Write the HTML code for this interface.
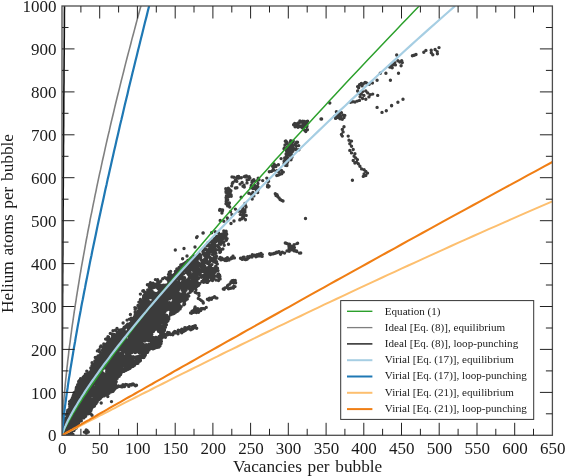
<!DOCTYPE html>
<html><head><meta charset="utf-8"><title>Helium atoms per bubble vs Vacancies per bubble</title>
<style>html,body{margin:0;padding:0;background:#fff}svg{display:block}text{font-family:"Liberation Serif","DejaVu Serif",serif;fill:#1a1a1a}</style></head><body>
<svg width="565" height="476" viewBox="0 0 565 476">
<rect width="565" height="476" fill="#fff"/>
<defs><clipPath id="c"><rect x="62" y="6" width="490.4" height="429.3"/></clipPath></defs>
<path clip-path="url(#c)" d="M115.5 330.2h0M90.8 368h0M170.2 273.7h0M149.4 287h0M113 330.8h0M135.5 307.9h0M170.6 271.4h0M169.3 272.3h0M144.5 291.9h0M168.5 274.4h0M101 346h0M96.6 358.3h0M167.8 277.7h0M109.3 339.2h0M164.8 277.6h0M129.5 319.1h0M138.7 306.2h0M112 334.1h0M108.4 338.6h0M135.1 312.1h0M155.4 279.6h0M157.7 281.6h0M149.8 285.3h0M95.4 357.8h0M99.2 349.7h0M160.7 281.2h0M86.8 371.1h0M112.3 334.8h0M147.4 284.8h0M140.4 299.5h0M127.6 324.2h0M103.8 344h0M119.4 330.2h0M99.5 351.7h0M130.4 314.5h0M110.3 333.4h0M134.9 307.6h0M142.8 291h0M143.6 290.6h0M140.4 294.1h0M162.7 278.8h0M107.9 340.7h0M117 328.4h0M154.2 284.4h0M140 303h0M105.6 339.1h0M117.1 331.6h0M107 338.8h0M157.8 282.3h0M98 355.9h0M127.1 320.1h0M138 305.5h0M153.1 283.1h0M105.2 344.7h0M152 284h0M94.9 361h0M114 334.4h0M138.7 307.9h0M95.3 357.5h0M108 336.8h0M131.4 318.1h0M135.2 309.4h0M169.5 275.5h0M98.8 350h0M104.5 345.8h0M148.5 284.8h0M106.1 339.1h0M108.6 337.3h0M150.4 282.8h0M92.1 362.7h0M138.9 302.1h0M92 365.6h0M100.4 346.9h0M157.6 279.7h0M131.2 320.6h0M102.9 347h0M123.1 323h0M148.6 290.6h0M182.9 289h0M63 431.9h0M92 372.1h0M84.4 396.9h0M146.8 347.2h0M68.4 426.1h0M126.6 350.1h0M130.9 350.6h0M137 317.9h0M115.8 365.5h0M175 312.6h0M114.7 374.3h0M143.7 307.4h0M150.3 329.3h0M155.7 342.7h0M92 407.8h0M155 318.4h0M103.8 393.2h0M182.9 298.9h0M153.7 340.2h0M140.9 355.7h0M138.5 339.2h0M184.3 270.5h0M150.8 345h0M140.9 356.3h0M66.5 418h0M153.1 337.8h0M109.8 375.9h0M143.8 357.5h0M133.9 340.7h0M167.9 320.7h0M174.2 303h0M149 336.7h0M133.1 347.8h0M162.5 308.2h0M110.1 383.5h0M109.2 345h0M193.7 266.4h0M134.2 330.1h0M96.9 363.6h0M173.5 306.3h0M108.2 358.3h0M117.3 345.5h0M144.4 329.1h0M150 289.1h0M77.9 385.3h0M68.7 428.9h0M88.2 389.8h0M155.8 326.6h0M174.3 301.5h0M146.6 329.2h0M172.3 313h0M181.4 285.2h0M89.5 378.7h0M141.5 315.7h0M173.2 280.7h0M91.9 377h0M136.8 348.2h0M92 404h0M125.4 344.2h0M73.6 401.4h0M142.2 327.9h0M177.2 291h0M122.3 334.8h0M151.2 336.8h0M161.8 335.6h0M169.5 280h0M150.8 294.4h0M114.5 382.1h0M66.9 421.7h0M137.1 349.4h0M160.6 300.7h0M86.7 385.5h0M141.6 308.9h0M168.4 294.7h0M161.6 317.8h0M184.9 294.2h0M79.3 400.4h0M87.7 396h0M154.7 293.7h0M135 325h0M116.9 342.7h0M130.9 325.8h0M144.6 318.5h0M173.2 277.5h0M127 341.3h0M161.7 295.4h0M74 412.9h0M139.3 330.7h0M149.4 303.5h0M138.3 361.3h0M89.6 388.2h0M125 356.4h0M175.3 273.8h0M118.3 334.4h0M114.8 380.2h0M131.8 329.3h0M176.4 287.3h0M114.9 337h0M178.9 285.2h0M124 365.6h0M160.7 338.8h0M155.8 311.9h0M120.3 361h0M121.7 355.8h0M124 340.7h0M105.5 379.6h0M127.7 364.8h0M168.3 286.5h0M113.8 384.1h0M137.6 356.8h0M159.8 327.9h0M168.6 297.6h0M151.1 348.3h0M114.3 375.3h0M97.9 378.6h0M134.7 348h0M195.1 268.4h0M160.2 285h0M106.7 350.5h0M97.8 370.3h0M81 404.8h0M81.3 387.3h0M118.4 355.3h0M84.5 396.3h0M154.5 311.8h0M69.1 433.7h0M145.1 297.3h0M105.8 386.6h0M162.2 336.1h0M108.8 376.8h0M172.6 276.8h0M157 287.4h0M99.2 377.7h0M159.2 342.5h0M102.7 388.9h0M164.5 324.9h0M114.5 378h0M195.2 272.5h0M90.6 400.7h0M100.8 380.4h0M181 294h0M86.2 396.2h0M91.9 375.3h0M132.2 348h0M113.2 357.1h0M72.4 399.6h0M116.4 377.1h0M166.1 294.3h0M138.3 319.8h0M80.9 409.5h0M113.7 369.7h0M175.2 299.9h0M189.8 281.7h0M96.7 396.4h0M108.2 373.3h0M85.9 379.1h0M105.2 363.9h0M125.2 348.3h0M101.6 362.6h0M92.2 393.4h0M143.3 351.9h0M108 357.2h0M97.6 388.5h0M118.1 367.8h0M160.6 320.6h0M158.3 323.2h0M80.1 409h0M155.9 313h0M124.8 336.5h0M192.8 276.8h0M114 338.5h0M140.2 335.5h0M150.1 297.6h0M110.4 383.3h0M143.7 335.5h0M90.2 380.9h0M199.1 255.5h0M199 257.2h0M193.4 287.9h0M145.3 306.9h0M72.8 427.1h0M160.1 288.8h0M186.2 268.2h0M150.1 307.2h0M92.5 401h0M83.8 399.6h0M172.1 285.2h0M147.6 299.4h0M76.2 428h0M142.8 346.1h0M181.8 264.6h0M105.3 395.1h0M160.6 294.9h0M182.2 282.9h0M106 347.7h0M122.4 331.1h0M193.6 280.8h0M163 287.4h0M158.7 309.1h0M131.8 340.3h0M86.2 390.1h0M101.9 367.8h0M161.7 331.4h0M69.8 406.3h0M71.9 426.3h0M98 363.8h0M75.8 404.2h0M79.7 398.1h0M120.6 342.5h0M96.3 369.9h0M105 385.3h0M116.7 365.5h0M84.6 402h0M139.9 311.1h0M181.5 285.9h0M132.8 366.6h0M163.2 323.1h0M161.7 310.6h0M86.5 377.8h0M150.6 309.3h0M133.6 357.8h0M127 325.6h0M101.6 366.9h0M158.2 328.4h0M145.8 331.5h0M138 323.7h0M102.2 356.7h0M164.9 289.5h0M182.8 298.7h0M142.6 354.6h0M161 334.6h0M175.2 275.8h0M138.2 325.5h0M127.3 355.7h0M174.7 309.7h0M195.3 281.5h0M176.9 300.7h0M103.3 382.7h0M195.5 271.4h0M128.5 325.6h0M79.5 413.1h0M150.7 321.9h0M172.8 294.3h0M128.2 333.7h0M117.3 371.5h0M106.5 365.4h0M73.9 402.6h0M62.4 436.3h0M159.3 313h0M188.9 287.2h0M111.8 343.1h0M81.2 388.1h0M107.5 361.8h0M87.9 387.5h0M163.5 286.5h0M131.3 365.5h0M163.9 306.3h0M147.4 295.3h0M186.2 299.7h0M159.9 343.3h0M169.2 289.2h0M161 312.8h0M130.4 332.1h0M101.1 393.7h0M123.1 369.5h0M109.8 371.2h0M111.9 361h0M123.5 333.6h0M172.1 289.3h0M149.9 316.4h0M156.3 324.1h0M173.9 284.2h0M124 347h0M112.6 362.6h0M115.3 343.3h0M110 356.7h0M115.5 348.6h0M72.5 412.3h0M112.2 342.7h0M106.3 386.3h0M142.3 325.2h0M175.7 277.7h0M151.3 323.2h0M123.5 336h0M88.4 377h0M94.7 389.6h0M175.9 307.3h0M165.4 327.3h0M103.4 387.2h0M108.9 372.6h0M107.4 376.5h0M120.5 363.2h0M156.2 326.9h0M92.4 391.9h0M116.5 340.9h0M172.4 275.4h0M123.2 341.8h0M104.7 351.3h0M93.9 390h0M81.4 415.7h0M110.5 385h0M129.7 364.7h0M136.2 363.5h0M155.6 320.3h0M172.4 277.2h0M100.5 380.9h0M151.4 321.3h0M109.3 346.2h0M88.6 397.6h0M81.3 411h0M157.2 297.3h0M124.6 369.3h0M73.4 407h0M119.6 342.5h0M65.2 419.6h0M173.8 302.8h0M137.1 323.2h0M92.9 393.7h0M129.8 355.5h0M108.6 383.3h0M126.2 325.8h0M155.8 298.2h0M162.2 305.1h0M94 397.6h0M180.3 300.6h0M149.1 322.2h0M93 382.4h0M167.3 295.8h0M108 385.8h0M118.4 334.6h0M101.9 388.3h0M160.7 320.2h0M89 375.1h0M126.1 335.4h0M163.7 310.4h0M98.9 399.5h0M122.7 349.1h0M67.6 413.7h0M124.7 346.7h0M90.1 377.3h0M111.7 377.8h0M88 398.3h0M85.4 415.8h0M170.2 305.7h0M94 404.3h0M65.5 425.9h0M102.3 360.4h0M151.9 311.6h0M178.2 294.7h0M89.4 403.3h0M84.6 380.5h0M163.2 300.1h0M178 273.1h0M128.4 359.3h0M170.1 287.3h0M130.9 361.3h0M103.1 380.7h0M134.9 328.1h0M119.7 368.2h0M95.3 366.2h0M90.6 375.7h0M143.7 313.8h0M100.8 396.6h0M71 414h0M113.4 376.7h0M178.4 300.1h0M147.8 295.7h0M140.5 342.7h0M68.3 429.2h0M103 391.2h0M177.5 269.5h0M104.6 388.2h0M95.5 372.4h0M86.6 380.2h0M112 390.7h0M158 305.5h0M192.7 269.7h0M196.9 280.4h0M122.9 370.9h0M161.6 309.2h0M192.3 264.9h0M102.6 366.3h0M177.5 297.4h0M127 367.2h0M108 386h0M136.4 319.7h0M77.6 410.4h0M135.6 314.6h0M176.5 296.3h0M175.8 303.5h0M99.6 386.5h0M170.7 305.2h0M111.3 344.5h0M188.7 272.5h0M115.9 382.5h0M141.2 332.4h0M176.4 291.8h0M126.3 363.6h0M126.8 354.6h0M102.5 379.3h0M99.6 372.2h0M175.9 296.7h0M96 386.5h0M149.9 322.8h0M85.2 407.2h0M143.1 319.6h0M166.4 320.9h0M164.6 298.9h0M131.6 335.7h0M130.7 349.5h0M196.9 257.8h0M101.6 384.2h0M144.9 320.9h0M170.9 312.5h0M105.4 366h0M97.8 371.1h0M141.6 321.6h0M159.3 342.7h0M71.3 430.2h0M94.3 397.5h0M130.3 325.2h0M75.1 425h0M148.6 328.2h0M155.4 306.9h0M111.5 382.2h0M80.7 398.2h0M98.5 387.9h0M105.5 384.4h0M132.7 329.8h0M139.5 312.9h0M106.9 376.1h0M154.4 348.2h0M91.3 405.6h0M146 326.9h0M99.5 374h0M124.1 329.6h0M134.3 363.1h0M110.1 377.6h0M152.2 341.6h0M169.7 304.6h0M134.8 329h0M150 316.2h0M79 417.8h0M164.8 306.1h0M141.8 315h0M92.1 400.8h0M76.5 424.8h0M148.8 344.5h0M128.3 339.6h0M115.5 372.8h0M163.5 332.5h0M167.6 299.4h0M166.2 309.3h0M112.4 375.5h0M83.7 390h0M84.5 377.7h0M100.3 364.6h0M141.4 314.9h0M145.5 350.9h0M102.9 367.9h0M85.7 377.3h0M124.5 356.3h0M93.4 387.2h0M69.2 429.8h0M162.7 285.5h0M171.2 280.8h0M154.5 328.6h0M160 302h0M130.2 335.4h0M102.1 394h0M71.4 428.4h0M73.7 408.5h0M180.5 274.2h0M159.4 322.4h0M154 327.8h0M160.8 287.1h0M173.7 292.2h0M94.7 367.1h0M195.2 259.9h0M163.7 303h0M102.5 350.2h0M92.8 376.8h0M94.9 403.9h0M152.1 308.1h0M98.6 390.3h0M85.8 387.6h0M81.1 395.8h0M167.4 284.6h0M147.4 350.2h0M161 303.9h0M153.2 292.7h0M190.3 262.7h0M86.7 388.8h0M87.4 404.7h0M195.8 283.5h0M81.1 405.3h0M103.1 368.7h0M123.4 346.4h0M103.1 388.1h0M152.6 307.7h0M126 343.8h0M144.6 339.7h0M144.4 313h0M171.1 280.8h0M179.8 306.3h0M101.8 391.2h0M114.9 346.5h0M99.1 374.5h0M98.2 389.1h0M133.4 362.1h0M118.8 339.9h0M170.6 313.2h0M138.2 346.3h0M155.9 299.1h0M172.3 288.7h0M177.2 278.5h0M140.7 320.6h0M135.2 357.3h0M158.1 327.4h0M67.3 419.6h0M146.1 352.5h0M117.1 369.1h0M161.9 321.9h0M71.1 423.7h0M120.1 347.4h0M66.6 434.8h0M149.8 325.8h0M144.3 346.1h0M160.9 292.7h0M98.5 380h0M158.1 317.5h0M98.2 391.9h0M183.3 265.7h0M184.3 302.4h0M194.2 274.7h0M148.2 349.4h0M120.4 331.1h0M181.1 296.5h0M147.8 351.3h0M149.4 295.1h0M133.1 335.9h0M140.1 314.4h0M130.2 344.2h0M99.9 372.9h0M107 362.1h0M125.3 366.8h0M148.8 302h0M115.3 345.3h0M92.6 392.4h0M133.8 329.8h0M69.3 423.8h0M83.4 399.5h0M96.3 390.8h0M92.3 399.5h0M106.7 360.9h0M163.6 317.1h0M78.8 419.7h0M80.9 381.4h0M88.6 379.8h0M187.9 279.7h0M79.4 416h0M133.9 343h0M72.1 420.4h0M155.1 317.5h0M161.7 294.3h0M138.6 342.7h0M91.5 402.8h0M135.5 323.1h0M121.8 344.7h0M153.5 309.8h0M160.3 335.8h0M74.8 418.8h0M145.9 323h0M70.3 430.2h0M161 285.6h0M127 339.9h0M119.1 367.6h0M120.5 349.9h0M121.8 356.2h0M190.9 289.6h0M156.2 308.4h0M64.8 424.6h0M152.7 307.5h0M106.2 366.4h0M187.9 260.5h0M130.1 358.9h0M142.1 312.1h0M146.5 323.8h0M174.8 279.2h0M76 402.1h0M143.3 302.2h0M95.2 401.2h0M173.4 276.1h0M123.9 371.4h0M93.3 377.7h0M82.5 381.9h0M133.9 319.5h0M114.7 380.8h0M148.1 340h0M192.9 276.4h0M117.5 356.3h0M181.2 265.1h0M69.2 429.2h0M148.3 319.4h0M99.4 386.9h0M67.7 428.6h0M181.4 276.1h0M114.1 340h0M156.2 337.4h0M160.3 317.2h0M117.2 333.2h0M74.3 407.6h0M131.4 350.9h0M143.6 336.6h0M112.1 341.9h0M138.6 351.2h0M176.2 284.5h0M136.4 352.1h0M75.9 390.7h0M164.1 288.3h0M90 404.9h0M131 363.6h0M128.1 369.3h0M135.4 318.5h0M74.6 414.3h0M184.7 265h0M154.5 307.6h0M97.4 387.8h0M159.6 297h0M135.8 329.8h0M95 391.6h0M189.5 265.5h0M156 297.5h0M72.1 427.9h0M114.4 359.3h0M78.9 410.8h0M116.1 371.2h0M120.8 339.7h0M159.1 346.7h0M124 344.4h0M117.1 345.6h0M137.7 350.6h0M146.1 299.2h0M77.7 425.1h0M157.7 324.5h0M172.3 314.1h0M111 349h0M129.2 352.6h0M115.2 382.5h0M163.4 289.1h0M125.9 327.3h0M144.2 348.7h0M112.2 378.3h0M136.6 325.8h0M172.6 291.5h0M132.5 321.7h0M85.8 415.1h0M145.6 326.9h0M74.1 399.7h0M146.4 301.9h0M155 337.8h0M90.4 403.1h0M112.8 368.1h0M100.3 377.8h0M107.9 355.8h0M175.6 289.1h0M90.7 390.8h0M81.3 420.8h0M120.4 337.6h0M131.7 342h0M154.3 295h0M173.6 277.7h0M129.8 358.1h0M95.6 361.7h0M172.7 278.8h0M195.6 267.6h0M85.1 389.1h0M176 299.6h0M140.4 360.3h0M147.7 349h0M80.5 414.6h0M86.9 398.1h0M195 276.9h0M153 345.6h0M84.6 404.1h0M132.7 347.5h0M128.1 326.8h0M72.1 417h0M127.7 350.1h0M87 377.2h0M115.2 343.2h0M103.9 349.4h0M128.4 363.8h0M102 388.2h0M117.6 343.4h0M96.5 367.7h0M75.7 394.3h0M184.3 299.2h0M105.1 357.3h0M85.2 396.2h0M178.7 280.9h0M140.6 350.3h0M90.7 393.4h0M88.1 396h0M108.2 384.3h0M187.7 266.9h0M87.5 409.5h0M160.8 338.9h0M165.3 324.4h0M133.6 348.3h0M171.7 286h0M177.4 282.6h0M149.3 311h0M65.8 425.4h0M171 311.2h0M75.4 419.1h0M151.1 325.7h0M79.4 417.8h0M98.4 390.2h0M75 403.8h0M165.5 303.3h0M173.7 301.9h0M115.3 365.8h0M158 312.7h0M132.5 321.2h0M168.1 297.4h0M99.9 367.3h0M149.2 304.8h0M112.1 347.8h0M173.7 279.8h0M188.3 274.5h0M81.2 394.3h0M110.5 341.8h0M128.8 333h0M139.2 342.9h0M169.5 283.4h0M81.2 411.2h0M177.2 297.6h0M102.7 394.4h0M82.9 409.4h0M136.2 333.3h0M118.2 367.4h0M165 324.1h0M92 374.9h0M81.2 379.9h0M85.2 389.8h0M132.7 346.4h0M107.5 385.2h0M107 366.5h0M100.8 366.4h0M73.9 423.9h0M97.9 384.8h0M127 362.1h0M171.1 290.2h0M147 313.9h0M159 320.7h0M191 263.9h0M199.5 283.9h0M123.9 369.7h0M116.2 367.8h0M89.3 392.7h0M171.6 295.2h0M71 420.2h0M103.8 360.6h0M168.1 306.7h0M147.9 299.1h0M174.6 282.6h0M129.4 336.7h0M83.3 403.3h0M78 400.8h0M147 346.8h0M99.1 381.7h0M112.2 345.7h0M170.3 283.7h0M66.3 431.5h0M145.2 303.7h0M119.1 376.1h0M160.2 300.6h0M120.4 355.1h0M102.2 368.7h0M109.8 387.1h0M101.7 386.1h0M177.3 277.4h0M133.7 360.6h0M77.3 404.2h0M72.1 401.4h0M89.3 394h0M105.5 386.6h0M108.6 388.1h0M156.5 304.2h0M68.1 428.6h0M121.8 369.9h0M119.2 376.2h0M179.1 279h0M74.4 418.3h0M112.2 391.2h0M100.5 377h0M160.6 309.6h0M88.4 376.6h0M90.3 401.9h0M120.6 348h0M169.2 282.9h0M130.6 350h0M160.8 298h0M146.4 338.9h0M118.9 344.3h0M158.5 327.4h0M192.1 283.3h0M175.4 282.6h0M156.4 337.7h0M89.3 397.8h0M120.8 334.5h0M142.2 354.6h0M111.3 352.3h0M112.2 341.9h0M77.7 397.1h0M138.2 336.4h0M87.6 406.7h0M159.2 284.6h0M105.2 391.1h0M128.7 345.4h0M109.6 381.8h0M96.3 382.8h0M140.3 330.2h0M154.4 341.6h0M116.2 335h0M113.1 372.4h0M137.4 319.9h0M72.5 398.1h0M136.7 343.7h0M150.9 340.3h0M66.1 431.4h0M138.3 311.6h0M153.3 317.7h0M152.6 309.3h0M176.2 305.5h0M180.4 278.6h0M75.3 413.9h0M153.3 322.5h0M144.1 326.9h0M107.8 362.1h0M173.3 290.3h0M126.8 360.3h0M142.8 306.3h0M173.8 302.7h0M148.4 335.3h0M133.1 356.8h0M105.5 390.6h0M140.9 343h0M139.8 344.2h0M153.9 297.6h0M109.7 362.7h0M158.8 307.7h0M198.1 257.9h0M152.8 320h0M159.8 297.6h0M105.4 352h0M90.6 401.1h0M115.7 359h0M73.4 420.4h0M151.4 306.3h0M96.5 384.3h0M83.6 389.8h0M140.9 331.8h0M155.3 344.5h0M94.6 403h0M143.1 315.4h0M157.9 319.7h0M92.7 367.9h0M98.9 380.9h0M146.5 350.6h0M166.2 285.7h0M80.5 395.9h0M81.3 398.7h0M168.8 318.9h0M188.9 282.8h0M148.4 314.7h0M177.1 310h0M143.1 309.3h0M91.7 388.3h0M78 400.8h0M154.1 287.4h0M103.4 384.8h0M124.1 363.4h0M124 337h0M93 390.5h0M184.1 304.1h0M143.2 301.7h0M163.7 285.3h0M96.4 370.9h0M81.2 411h0M102.9 378.8h0M103.1 382.5h0M166.1 294.8h0M103.4 355.8h0M86.5 402h0M123.1 342.4h0M136.5 341.1h0M99.4 389.2h0M82.6 391.7h0M156.6 302.2h0M157.5 345.3h0M146.8 328.1h0M106.5 392.7h0M141.3 308.8h0M87.2 396.9h0M113.4 381.5h0M101.1 375.7h0M101.1 361.8h0M104.2 375h0M157.8 284.2h0M185.1 281h0M107.7 382.2h0M77.6 403.7h0M95.3 402.6h0M93.3 383h0M155.1 329.4h0M90 375.9h0M92.9 366.1h0M104.2 357.9h0M122.8 363.7h0M65.2 420.5h0M157 328.2h0M178 285.3h0M129.1 349.4h0M171.8 307.3h0M115.8 357h0M66.9 427.8h0M101.9 364.1h0M186.4 269.4h0M176.5 290.9h0M130.4 323.5h0M187.6 279.8h0M112.1 390.4h0M127.8 352.5h0M130.6 352h0M100.4 398.3h0M135.6 341.4h0M186 262.1h0M96.5 396.7h0M118.4 361.6h0M80 391.1h0M185.5 262.7h0M65.9 427.8h0M158.5 331.3h0M124.6 362.2h0M135.1 326.3h0M84.9 406.2h0M87.7 377.7h0M82.1 400.3h0M180.7 300.8h0M129.4 325.8h0M155.3 338.7h0M156.5 313.3h0M131.7 322.6h0M118.2 337.4h0M93.9 390.9h0M117.8 343.5h0M178.6 269.1h0M77.9 398.1h0M164.4 317.8h0M163.7 314h0M182.6 296.2h0M121.8 366.4h0M120.6 349.3h0M74 412h0M71.8 407.5h0M78.3 389.4h0M97.2 393.6h0M81 392.8h0M179 279.8h0M100.4 371.4h0M79.2 393.4h0M68.8 410.2h0M144.8 349.2h0M144.7 323.8h0M73.1 412.6h0M157.7 326.4h0M74.2 425.7h0M142.8 356.7h0M93 371.4h0M81 395h0M107.2 358.3h0M98.8 389.6h0M123.9 332.8h0M69.2 410.8h0M71.9 419.3h0M133.8 357.4h0M146.3 345.6h0M146.4 305.7h0M125.1 363.5h0M140.8 345h0M160.7 335h0M84.8 378h0M98.6 358.5h0M135.6 326.6h0M155.6 304.3h0M86.4 393.3h0M108.7 366.7h0M156.9 317.3h0M143.3 323.7h0M114.3 340.4h0M130 342.3h0M71.6 401.7h0M196.1 271.2h0M113.1 347.1h0M137.9 348.9h0M142.4 357.3h0M117.3 348h0M140.6 306.7h0M112.9 354.8h0M105.7 377.1h0M112.3 389.6h0M160.1 293.2h0M102.8 374.6h0M78.3 412.4h0M123.3 361h0M154.5 325.3h0M100.4 379.5h0M149 349.9h0M142.7 350.2h0M173.9 292.1h0M70.2 408.2h0M100 359.4h0M90.8 394.3h0M122.8 356h0M118.2 339.1h0M118.5 354.2h0M153.2 305.4h0M147.1 323.4h0M85.4 379.7h0M121.5 341.6h0M101.7 385.6h0M140.5 308.8h0M174.1 300.4h0M71.6 425.6h0M99.2 367.7h0M134.9 320.8h0M70.5 413.8h0M111.5 384.6h0M151.4 292.1h0M106.6 367.9h0M74.7 421.2h0M68.9 421.7h0M81.8 401.7h0M192.5 260.8h0M89.1 386.9h0M103.6 382.4h0M151.7 317.3h0M169.2 286.3h0M116.8 375.3h0M123.1 364.6h0M151.2 320.4h0M145.6 334.4h0M97.4 401.4h0M94.7 391.5h0M151.7 316.5h0M110.2 376.7h0M108.7 378.9h0M150.2 292h0M125.5 326.5h0M141.8 311.8h0M89.3 403.5h0M146.5 319.7h0M94.7 400.9h0M162.1 329h0M140 331.8h0M130.7 345.6h0M85.5 405.7h0M103.7 348.7h0M84.2 398.5h0M158.1 314.1h0M106.8 386.6h0M93.6 369.9h0M154.8 311.9h0M192 290.8h0M109.3 381.4h0M85.6 409.4h0M154.9 343.9h0M169.1 282.9h0M169.8 294.6h0M154.3 297.9h0M195.8 261.3h0M84.3 407.7h0M150.7 336.6h0M102 383.5h0M108.5 361.1h0M192.9 265.8h0M122.6 361.6h0M84.2 376.8h0M142.8 327.3h0M189 282.2h0M155.5 340.8h0M87.8 408.2h0M146.8 298.2h0M148.1 349.4h0M80.9 416h0M147.9 315.4h0M120.2 337.9h0M153.8 312h0M107.7 368.2h0M140.5 309.6h0M166 295h0M125.8 332.9h0M140.2 308.5h0M183.2 297.5h0M148.8 347.5h0M176 283.4h0M100.8 373.5h0M129.3 367.1h0M73.5 400.1h0M156.1 313.6h0M148.5 310.9h0M85.3 397.8h0M101.6 360.5h0M120.8 329.9h0M155.3 299.1h0M183.7 266.9h0M114.6 371.8h0M164.2 330.9h0M143.9 335.8h0M177.3 301.2h0M111.1 391.9h0M126.6 342h0M148 316.6h0M84.5 380.4h0M150 297.2h0M172.5 286.9h0M161.7 302.9h0M165.6 302.3h0M71.3 399.9h0M129.8 324.6h0M145 329h0M160.4 321.8h0M144.9 341h0M147.3 338.2h0M94.9 392.3h0M147.8 291.4h0M85.7 376.8h0M173.2 301.5h0M78.6 392.2h0M160.7 298.8h0M107.2 351.4h0M71 428h0M154.4 297.9h0M155.3 341.8h0M149.8 337.4h0M189.5 275.4h0M123.3 356.6h0M165.6 301.9h0M132.2 350.2h0M177.4 271h0M126.9 341.6h0M103.8 392.2h0M122.8 337.3h0M108.2 350h0M136.7 343.8h0M137.3 337.4h0M142 319h0M117.9 342.1h0M175.8 290.2h0M147.1 326.8h0M133.4 359.8h0M81 418.1h0M183.8 298.4h0M75.8 419.3h0M105.9 388.4h0M82.2 387.8h0M139.3 315.5h0M165.4 303.5h0M108.4 373.1h0M82.3 384h0M68.4 425.6h0M75.9 396.4h0M158.7 302.8h0M99.8 398.9h0M140.7 332.8h0M154 342.2h0M70.8 427.5h0M127.3 365.6h0M192.4 263.5h0M139 312.7h0M131.4 329.9h0M141.4 321.4h0M169.6 292.2h0M141.2 327.9h0M107.7 388.9h0M72.5 397.6h0M75.8 427.7h0M113.3 349.3h0M153.6 346.4h0M145.7 316.3h0M87.9 404.8h0M174.6 310.4h0M102 369.7h0M171.3 306.5h0M85.3 384.4h0M78.8 382.6h0M85 407h0M140.3 315.6h0M129.9 359.6h0M104.7 376.3h0M106.5 357.3h0M90.9 385.1h0M142.9 301.2h0M136.3 332.7h0M155.7 303.4h0M63.6 434.8h0M91.6 399.7h0M195.8 263.3h0M83.8 417.9h0M106.5 379.5h0M187.4 266.5h0M83.7 394h0M76.9 407.7h0M76.2 389.1h0M90.5 373.6h0M95.4 399.2h0M113.8 381.3h0M96.4 396.5h0M161.5 301.1h0M122.3 341h0M82.7 407.7h0M158.8 321.9h0M179.7 301.9h0M180.5 306.7h0M140.4 350.1h0M197.2 260.7h0M127.6 361.6h0M70.6 408.7h0M176.5 287.6h0M87.4 388.6h0M166.5 318.2h0M194.2 285.4h0M147.6 329.2h0M67.7 416.4h0M82.9 386.9h0M84.5 386.9h0M149.3 346.4h0M136 337.8h0M88.2 410.8h0M67.4 427.3h0M169.5 297.9h0M102.7 353.3h0M134.8 327h0M182.9 298.7h0M161.8 287.7h0M185.5 298.6h0M146.9 329.2h0M151.8 316.1h0M115.2 386h0M133.4 348.6h0M167.1 298.4h0M157.2 293.5h0M97.3 396.9h0M143 353.4h0M127.3 348.1h0M163 299.3h0M71.6 426.5h0M196 271.9h0M108.4 391.8h0M132.9 328.6h0M83.1 383.7h0M154.6 343.4h0M157.8 299.3h0M136.6 356.9h0M105.1 383.6h0M127.9 343h0M122.9 329.1h0M175 312.8h0M71.5 413.2h0M160.4 288.3h0M111.5 387.5h0M140.1 338.7h0M161.4 341.4h0M69.6 409.3h0M159.8 288.6h0M110.9 347.8h0M115.8 349.2h0M111.4 360.7h0M127.1 334.5h0M77.7 384.7h0M88 387.5h0M161.2 295.5h0M155 323h0M92.4 403.8h0M108.8 373h0M117.4 338h0M69.3 409.3h0M72 406h0M84.9 400.6h0M170.8 306.6h0M112 379.3h0M119.6 368.6h0M156.2 346.3h0M167.3 306.7h0M140.5 333.2h0M81.6 407.6h0M154.6 328h0M159.9 313.2h0M152.5 311.6h0M199.1 269.8h0M161.1 321.2h0M181.3 278.2h0M187.1 282.6h0M96.1 376.4h0M89.4 393.6h0M97.2 373.9h0M141.1 349.7h0M131.6 348.8h0M167.2 306.5h0M153 323.3h0M152.3 326.7h0M116.9 344.3h0M146.5 349h0M167.3 297.3h0M167.2 303.6h0M153.1 285.5h0M161.4 329h0M93.3 379.9h0M136 326.5h0M149.1 327.9h0M93.4 387.5h0M116 354.4h0M103.8 377.9h0M177.2 289.9h0M133.3 326h0M111.2 342.8h0M176.1 310.9h0M76.8 400.2h0M157.3 312.6h0M81.6 392.9h0M152.2 327.2h0M155.4 316.7h0M170.1 305h0M160.1 287.7h0M149.5 340h0M168 319.4h0M105.3 381.5h0M161.4 300.5h0M153.6 311.8h0M151.6 306.2h0M73.7 419h0M80.3 396.9h0M152.5 325.1h0M174.3 302.4h0M195.1 279.3h0M134.9 340h0M151.2 302.5h0M124.9 365.8h0M188.4 287.6h0M111.9 380.4h0M99.8 397.9h0M161.2 331.7h0M104.4 377.4h0M157.1 328.8h0M73.3 417.3h0M91.4 373.9h0M177.6 289.6h0M169 278.4h0M139.4 335.9h0M150.8 332.3h0M159.1 328.3h0M169.2 303.8h0M142.3 319.2h0M183.3 293.2h0M126.1 362.3h0M192.8 266.6h0M86.6 410.5h0M175.1 297.7h0M174.6 289.3h0M118.6 342.4h0M146.1 336.5h0M116.8 354.5h0M151.9 315.8h0M168.4 283.8h0M144.3 306.6h0M191.5 262.3h0M116.2 357.2h0M158.3 324.7h0M95.3 365.5h0M130.6 367.4h0M147.3 349.1h0M95.3 380.8h0M129.3 347.2h0M150.7 317.8h0M144 315.4h0M147.2 339.8h0M102 389.1h0M152 344.6h0M108.2 388.8h0M87.2 405.8h0M175.8 276.3h0M168.2 280.2h0M140 312.7h0M96.5 368.6h0M138.9 357.4h0M121.9 365.4h0M122.8 345.5h0M173.3 294h0M140.3 360.7h0M87.3 397.2h0M140 339.7h0M67.6 432.8h0M114.2 344.5h0M111.5 344.8h0M82.6 411.6h0M118.5 363.5h0M172.4 286.5h0M153.8 340.1h0M146.9 340.1h0M161.5 306.5h0M112.4 342.1h0M133.7 319.5h0M150 331.1h0M198.7 263.3h0M122.5 340.1h0M172 279.7h0M108.2 365.4h0M123.4 333.6h0M126.7 360.7h0M156.4 299.5h0M140 333.9h0M118.2 363h0M179.7 306.5h0M155.9 306.6h0M189.7 273.9h0M154.7 308.8h0M188.9 266.4h0M168.3 293.7h0M139.4 328h0M114.2 376.1h0M166.1 305.1h0M152.6 345.6h0M98.7 367.6h0M196 274.8h0M99.2 383.9h0M154.7 317.1h0M164.5 320.3h0M114.1 361.5h0M111 391.8h0M101.8 372.9h0M181.2 265.2h0M157.4 314.6h0M192.8 268.9h0M84.5 409.4h0M83.3 394.2h0M100.1 363.6h0M144.8 319.2h0M178.2 310.4h0M172.1 289.3h0M101.8 396.8h0M156.2 321h0M130.3 349.1h0M137.8 312.1h0M90.1 372.3h0M129.7 332h0M177.9 278.4h0M126.1 340.5h0M113.1 360h0M153.5 306.5h0M152 318.5h0M69.9 431.6h0M152 328.1h0M71.5 423.4h0M131.4 352.8h0M144.3 311.1h0M160 307.4h0M142.6 338.6h0M126.2 358.8h0M150.4 314.4h0M172.8 291.7h0M153.5 299.6h0M82.5 406.7h0M175 284.9h0M165.5 302.2h0M124.1 346.6h0M115.3 377h0M196 266.6h0M142.1 318.4h0M92.4 368.4h0M119.4 368.1h0M79.1 407h0M144 319.7h0M82.9 405.3h0M122.5 353.9h0M136.2 350.2h0M85.1 408.1h0M131.6 360.3h0M152.2 345.9h0M149.9 305.1h0M114 388.6h0M75.9 419.5h0M82.2 402h0M64.8 425.6h0M184.2 294.6h0M147.2 348.6h0M191.3 284.7h0M197.8 263.9h0M92.2 387h0M113.2 340.8h0M85.2 401h0M198.7 278.2h0M68.5 419.5h0M157.7 298h0M133.3 351.6h0M147.3 318.8h0M132 334.9h0M164.8 316.3h0M127.1 367.1h0M96.4 389.6h0M176.5 271.7h0M159.9 291h0M89.3 377.7h0M192.4 290.1h0M139 312.7h0M155.1 313h0M102.2 386.1h0M154.4 319.4h0M97.3 366h0M77.7 397.6h0M175.5 307.7h0M174.4 294.2h0M142.2 346.4h0M154.8 344.6h0M151 325.5h0M140.6 345.8h0M91.5 379.6h0M132.7 331h0M157.1 303.7h0M138.9 322.5h0M80 395.5h0M170.7 285.4h0M90.2 402.4h0M156.3 293.7h0M107.8 372.5h0M106.6 368.1h0M156.2 318.1h0M135.4 342.2h0M101.6 369.3h0M145.7 318.3h0M147.1 295.3h0M136.8 321.2h0M143 357.4h0M116 381.3h0M76.1 415.8h0M171.9 276h0M84.6 379.5h0M149.3 324.3h0M161.8 309.8h0M170.6 280.4h0M154.2 346.1h0M88.2 376h0M83.3 417h0M115.9 362.7h0M71.1 405.6h0M181.4 301h0M160.5 328.1h0M151.6 330.5h0M153.2 347.1h0M96.2 366.5h0M177.5 300.7h0M94.3 376.3h0M107.8 380.1h0M123.1 356.9h0M97.3 365.1h0M110.7 379.6h0M153 324h0M175.1 311.9h0M69.7 428h0M132.4 339.4h0M69.4 409.2h0M145.6 312.3h0M156 297.8h0M81.8 402.1h0M169.2 305.2h0M158.8 329.8h0M163.9 286.2h0M71.4 424.3h0M81.4 403.6h0M87.7 376.5h0M77.7 391.8h0M126.2 364.4h0M144.5 337.5h0M125.5 344.5h0M157.6 315.4h0M128.5 369.1h0M139.7 344.4h0M156.3 298.6h0M146.5 351.3h0M142.7 304.1h0M74.7 412.3h0M138.3 332.6h0M91 402.7h0M192.4 269.5h0M69.6 416.4h0M69.1 425h0M126.6 325.8h0M106.6 374.6h0M156 307.3h0M150.2 314.7h0M105.4 377.9h0M94.1 364.4h0M81.9 410.5h0M144 301.9h0M123.6 333.5h0M67.7 424h0M132.4 338.7h0M187.3 269h0M188.3 274.5h0M136.4 359.6h0M197.4 282.7h0M154.2 300.9h0M172.6 286.1h0M171.9 303h0M159 347h0M110 345.6h0M135.7 332.7h0M72.3 417.3h0M158.5 316.5h0M110 379.9h0M167.9 307.5h0M173.2 305.4h0M190.2 292.2h0M152.8 292.5h0M106 365h0M71.4 420.7h0M104.2 389.4h0M99.3 359.3h0M156.8 326.2h0M198.4 285.4h0M135.3 347.1h0M135.6 350.5h0M170.3 309.3h0M136.8 316.8h0M63.7 429.2h0M121.3 366.6h0M131.8 326.7h0M95.8 398.3h0M92.7 399.7h0M189.9 289h0M169 297.9h0M126.7 353.6h0M157.8 294.5h0M79.1 389.2h0M156.3 341.2h0M164.8 305.8h0M172.4 309.2h0M153.6 340.1h0M170.9 291.2h0M113.4 381.7h0M80.5 398.5h0M134.1 328.4h0M144.3 331.5h0M144.6 355.7h0M99.1 378h0M84.5 413.9h0M159 311.9h0M161.2 304.5h0M123.6 370.9h0M146.9 333.8h0M104.1 377.3h0M91.1 388h0M143.1 335.1h0M148.7 331.1h0M87.9 405.7h0M144.3 353.1h0M165.8 296.5h0M70.7 410.3h0M129.9 359.7h0M92.4 387.2h0M73.3 404.2h0M96.2 363.1h0M70.7 422.2h0M135.2 320.4h0M125.2 351.2h0M120.3 365.8h0M159.9 331h0M81.1 386.1h0M132.6 319.1h0M67.4 431.8h0M115.3 350.5h0M115 382.4h0M139.1 321.4h0M84.8 404.2h0M173.6 279.4h0M75.2 401.7h0M66.5 418.3h0M167.1 307h0M151.2 325.3h0M143 326.6h0M139.5 325h0M194.8 283.9h0M174.1 297h0M142.5 327.8h0M150.3 335.1h0M112 370.8h0M65.3 419.7h0M115.3 354.4h0M79.5 387h0M78.2 399.5h0M134.6 323.1h0M164.2 302.9h0M79 383.4h0M126.6 352.6h0M67.5 413.2h0M66.6 421.8h0M167.1 321.6h0M144.7 355.7h0M126.8 344.5h0M159.3 341.5h0M115 335h0M178 274.7h0M159.2 291.2h0M153.6 346.9h0M74.9 417.4h0M143.4 300.4h0M92.5 403.2h0M75.1 415.2h0M86.9 404.4h0M87.4 398.6h0M172.1 277h0M106 378.9h0M150.8 332.8h0M109.3 345.8h0M170.9 287.4h0M131.7 335.7h0M77.7 422.9h0M67.4 424h0M137.1 349.1h0M95.2 400.1h0M133.3 365.5h0M147.6 295.2h0M165.4 317.6h0M100.5 397.8h0M146.7 328.8h0M177.3 311.3h0M151.4 322.9h0M107.4 363.7h0M100.8 365.1h0M104.3 387.5h0M96.6 389.4h0M85.8 397.5h0M100.9 367.3h0M173.3 301.7h0M71.9 404h0M197.1 286.2h0M153.3 296.9h0M167.8 303.1h0M91.3 369.2h0M162.1 301.3h0M158.7 288.7h0M161.2 322.4h0M109.8 379.4h0M143.7 347.2h0M65 429.5h0M110.4 358.3h0M105.2 360.3h0M108.8 343.7h0M186.9 262.5h0M145.8 315.3h0M68.4 414.6h0M148.4 291.3h0M85.8 398.2h0M142.6 354.3h0M164.5 329.9h0M161.6 319.8h0M73.3 410.4h0M128.2 366.5h0M97.5 382.4h0M93.5 391.5h0M92.5 380.9h0M162.8 328.8h0M138.2 323.4h0M131.8 321.3h0M173.6 304.9h0M84.6 401h0M139.6 347.9h0M166.8 315.5h0M95.9 380.1h0M172.2 309h0M160.1 327.1h0M78.6 389.3h0M154.5 284.7h0M157.4 343.8h0M116.8 345.2h0M171.6 288.6h0M114.9 377.3h0M98.6 357.5h0M127.5 355h0M152.9 347.2h0M73 424.5h0M157.6 317.4h0M150.4 335.5h0M192 268.4h0M115.4 346.2h0M153.4 340.8h0M132.6 337h0M82.2 388.5h0M72.2 425.7h0M101.8 396.6h0M146.2 324.4h0M186 272.5h0M123.9 356.3h0M131.8 364.6h0M80.3 381.2h0M115.6 347.1h0M85.1 395.1h0M136.7 325.5h0M158.6 305.1h0M145.5 293.2h0M162.4 303.3h0M108.9 360.2h0M151.9 328.1h0M75.4 416.3h0M128.8 361.7h0M75.1 402.1h0M178.8 303.1h0M67.3 420.7h0M144.7 300.5h0M124.6 348.8h0M77.6 421.4h0M93.9 386.6h0M90.7 390h0M136.8 326.6h0M73.2 429.4h0M84.4 379.3h0M181.7 276.2h0M131.9 352.6h0M123.8 330.5h0M175.3 304.7h0M186.4 266.7h0M142.8 346.7h0M89.2 375.9h0M154.6 295.4h0M109.7 352.5h0M148.6 332.1h0M142.9 338.4h0M115.7 363.8h0M120.9 332.4h0M105.9 360.4h0M82.1 398.9h0M111.3 354.1h0M157.9 314.4h0M158.2 314.4h0M139.9 313h0M76.6 387.2h0M147.3 332.6h0M119.3 353.8h0M123.1 336.4h0M76 413.7h0M112.9 379.8h0M82.5 379h0M166.6 278.7h0M84.5 401.2h0M142.6 349.2h0M73.7 429.3h0M186.8 284.2h0M145.3 355h0M109.7 391.5h0M112 355.5h0M107.4 361.8h0M134.3 351.5h0M90.4 401.2h0M129 324.3h0M77.1 411.1h0M103.8 362.3h0M70.3 401.8h0M179.1 267.4h0M132.5 334.2h0M186.6 295.9h0M92.1 375.3h0M191 288.5h0M74.2 392.7h0M80.2 406.7h0M144 322.7h0M118 363.8h0M150.5 309.4h0M100.4 397.3h0M157.7 345.5h0M150.8 331.3h0M98.3 383.7h0M185.2 289.4h0M130.8 332.2h0M178.4 275.9h0M140.5 356.9h0M117.3 340.8h0M152 324.6h0M107.8 386.3h0M157.7 327.1h0M107.5 373.5h0M150.1 346.1h0M140.9 307.9h0M110.4 341.4h0M153.3 314h0M143.5 332.9h0M169.2 305.3h0M78.8 395.6h0M90.9 410.6h0M188.8 296.1h0M118.9 373.2h0M141.7 345.9h0M71.9 413.2h0M81.5 394.6h0M158.1 345.1h0M113.4 366.7h0M151 309.6h0M75.2 398.1h0M87.8 383.2h0M178.2 308.4h0M71.3 407.5h0M110.1 352.5h0M196.9 273.7h0M167.5 299.6h0M143.3 318h0M173.1 283h0M76.2 414.3h0M142.6 337.7h0M190.6 258.7h0M109.3 376.6h0M94.7 376.3h0M175.4 303.3h0M178.8 281.6h0M162.7 303.6h0M98.3 390.1h0M67.1 416h0M174.1 307.3h0M160.6 292.5h0M173.1 310.9h0M106.2 348.6h0M99.3 396.3h0M109.8 355.4h0M134.7 331.8h0M85.2 414h0M134 335.7h0M98 391.9h0M77.5 423.7h0M156.4 284.9h0M112.4 379h0M88.6 394.4h0M119.6 334.2h0M173.1 304.1h0M69.6 425.8h0M78.8 391h0M78.9 405.3h0M168.9 295.9h0M82.7 412.1h0M183.9 287.5h0M74.3 414.8h0M150.3 290.5h0M177.4 277.3h0M111.2 386.4h0M106.7 357.7h0M152.6 301.9h0M165.6 320.3h0M168.4 306.7h0M119.3 363.6h0M160.9 290.4h0M117.6 359.6h0M174.9 285.6h0M125.9 343.5h0M152 329h0M177.2 308.5h0M157.2 284.1h0M174.5 308.6h0M192.7 287.1h0M154.3 319.5h0M136.5 327.5h0M115.8 357.7h0M76.1 401.1h0M131.3 345.5h0M158.3 317.5h0M69.4 416.4h0M175.7 294h0M89 398.5h0M165.6 315h0M105.4 380.1h0M125.2 333.6h0M124.8 335.1h0M187.5 266.2h0M85.3 387.8h0M78.6 422.4h0M118.7 339.6h0M140.1 325.5h0M128.4 324.7h0M74.7 429.1h0M116.8 341.6h0M148.2 331h0M128.2 349.5h0M117.7 343.4h0M78.7 392h0M141.1 346.7h0M98.6 372.9h0M139.5 341h0M141.1 347.4h0M160.3 309.8h0M134.4 341.7h0M133.1 366.1h0M81.9 417.8h0M115.1 376.2h0M169.9 295.5h0M85.2 376.5h0M133.8 330.4h0M168.1 289h0M103.8 360.7h0M80.1 402.3h0M136.9 339.6h0M181.4 298.7h0M191.9 268h0M91.3 395.8h0M192.3 278.1h0M109.6 357.9h0M156.6 308.5h0M138.2 316.7h0M123.2 355.9h0M70.6 403.3h0M131 341h0M160 304.7h0M94.5 394.5h0M144.9 350.2h0M141.6 325.9h0M132 348.4h0M164.4 293.2h0M71.5 400.1h0M113.2 343.4h0M90.9 386.2h0M78.4 404.8h0M185.5 288.3h0M180.1 308.5h0M105.8 355.4h0M192.3 262.9h0M109.7 371.1h0M95.2 374.1h0M161.5 295.5h0M145.8 315.4h0M96.2 393.7h0M158.6 331.4h0M146.8 292.7h0M63.2 431h0M149.4 315.2h0M145.8 317.1h0M194.4 256.3h0M153.5 310.5h0M141 305.1h0M176.9 269h0M73 401.8h0M145.6 308.7h0M142.7 308.3h0M68 419h0M160 345.7h0M158.4 318.6h0M145.2 330.3h0M116 337.2h0M165.7 288.3h0M93.1 395.4h0M86.9 408.9h0M69.7 408.5h0M144.7 351.4h0M192.8 264.4h0M145.8 349.7h0M145.1 302.5h0M118.4 349.5h0M101.6 367.3h0M95.4 381.6h0M69.9 428.4h0M77.8 401.9h0M136.3 313.5h0M172.8 313.9h0M162.1 298.3h0M91.6 401.5h0M170.3 290.8h0M115.2 361.2h0M141.3 337.7h0M110.6 363.7h0M112.4 367.9h0M132.2 331.5h0M95.5 382.6h0M108.1 351.2h0M182.6 273.2h0M146.4 322.7h0M64.2 427h0M171.6 308.8h0M179 279.5h0M115.4 374h0M131.3 342.5h0M64.2 434.7h0M135 315.6h0M102.4 352.8h0M194 256.7h0M132.1 334.5h0M67.2 423.9h0M98 385.2h0M117.4 371.2h0M94 399.5h0M112.5 383.4h0M85.2 378.2h0M173.8 299.7h0M145.3 354.8h0M143.1 322.3h0M73.3 395.8h0M84.1 378.3h0M192.7 261.3h0M97.1 364.3h0M91.5 408.3h0M163.8 292.5h0M115.9 375h0M110.2 355.1h0M151.1 326.3h0M131.9 332.7h0M86.1 394.6h0M153.1 316.2h0M93.4 365.2h0M69.8 424.9h0M82.6 394.4h0M139.9 343.9h0M149.2 319.8h0M124.6 340h0M182 278.9h0M121.1 339.3h0M135.4 334.8h0M93.9 403.8h0M142.5 311.8h0M185.1 295.5h0M169.4 302.8h0M98.6 371.3h0M181.5 278.3h0M185.6 296.9h0M96.5 367.6h0M152.6 293.9h0M77.1 404.7h0M111.1 380.6h0M89.4 374.1h0M115.2 339.6h0M77.4 405.7h0M149.6 297h0M140 334.9h0M126.5 355h0M189.9 262.5h0M165.5 285.3h0M162 316h0M196.8 286.5h0M159.7 289.3h0M77.8 393.1h0M92.9 399.1h0M140 339.1h0M103.4 363.3h0M68.6 412.9h0M121.7 349.5h0M121.5 343.9h0M149.7 334.4h0M145.7 295.2h0M70.5 426.6h0M89.9 389.6h0M134.6 331.7h0M79.4 389.3h0M158.7 339.2h0M136.7 328.4h0M78.5 418.3h0M158.2 296.6h0M155.1 341.8h0M92.4 406.2h0M159.8 345.9h0M138.4 334.2h0M152.9 312h0M97.9 366h0M143.3 317h0M95.9 362.2h0M160.5 326.5h0M140.3 327h0M79.1 411.8h0M134.8 323.3h0M160.9 288.6h0M89.5 385.6h0M113.4 344.4h0M107 347.7h0M135.1 352.6h0M115.8 339.5h0M145.2 337.1h0M113.3 349.9h0M99 369h0M110.9 384.5h0M102.5 365.1h0M139.6 358.4h0M73.3 398.7h0M176.8 310.4h0M146.5 335.8h0M186.3 295.5h0M103.2 364.7h0M126 342.6h0M123.9 345.4h0M137.3 335h0M71.4 402.4h0M175.3 295.5h0M103.1 357h0M73.3 426.6h0M81.2 380.5h0M131.5 330.1h0M90.6 390h0M156.1 299.4h0M177.5 273.4h0M177.9 310.7h0M147.7 304.8h0M138.5 358.3h0M154.4 323h0M174.8 306.4h0M172.3 284.6h0M165.2 286.8h0M119.7 371.8h0M162.1 326.6h0M111.7 377.2h0M148 346.9h0M161 289h0M73.4 412.8h0M117.3 334.9h0M170.1 282.6h0M167 308.7h0M192 262.9h0M196.5 264.3h0M155.3 321.5h0M108 349.4h0M133.7 334.7h0M152.3 286.9h0M73.9 430.5h0M178.2 283.3h0M64.7 424.5h0M154.1 318.7h0M76.4 422.6h0M86.9 374h0M183.8 265.6h0M154 303.4h0M157.1 347.3h0M154.5 321.4h0M158.9 324.2h0M116.8 364.2h0M123.6 338.5h0M174.6 275.7h0M143 334.9h0M71.2 406.1h0M73.3 412.6h0M68.8 422.9h0M112.8 345h0M135.8 329h0M164.3 301.5h0M159 292.6h0M197.5 262.9h0M168 294.9h0M80.2 395.6h0M110.1 365.6h0M80.7 388.7h0M174.8 311.1h0M143 345.8h0M187 298h0M194 271.3h0M148.7 290.9h0M73.3 422.9h0M131.8 321.4h0M87 374h0M141.6 323.9h0M175.7 305.6h0M111.4 363h0M136.9 358.8h0M132.5 322h0M78.8 382.5h0M115.8 378.9h0M172.7 290.1h0M109.7 377.8h0M119.3 341.8h0M188 265.5h0M92.7 389.4h0M145.4 295h0M150.8 321.6h0M97.7 400.7h0M71.5 422.3h0M86.4 411.2h0M153.8 303.5h0M158.3 313.4h0M171.5 283h0M126.2 358.8h0M73.8 409.1h0M162.9 329.6h0M176.3 307.7h0M78.2 411.5h0M74.5 420h0M179.9 272.3h0M111.6 350.5h0M124.6 335.9h0M88.7 380h0M150.7 345.6h0M145.8 334.5h0M109.4 361.8h0M169.7 306.5h0M156.5 308h0M162.5 312.4h0M162.9 295.9h0M92.6 379.2h0M165 311.6h0M122.8 351.6h0M91.4 370.6h0M78.7 412.1h0M172.2 292.5h0M184.1 298.6h0M103.4 364.6h0M87.8 377.8h0M90.1 386.6h0M81.9 404.5h0M141.2 321.9h0M104.4 361.3h0M135.5 341.5h0M95.8 372.3h0M155.8 284.3h0M170.5 293.4h0M70.4 419.7h0M145.2 312.6h0M84.1 386h0M86.3 384.1h0M132.8 319h0M112.8 391.4h0M111.3 352.9h0M114.9 376.7h0M126.1 343.8h0M178.6 277.8h0M88.7 382.7h0M76.4 398h0M96.9 378h0M128.8 325.7h0M117.4 335.4h0M131.2 334.3h0M107.5 367.8h0M171.4 289.4h0M168.4 292h0M70.4 404.7h0M138.4 347.8h0M161.9 318.9h0M104.4 395.4h0M83 395.9h0M161.3 327.5h0M81.6 415.9h0M170.9 282.6h0M121.3 344.4h0M147.2 292.5h0M129.9 342h0M166.8 319.5h0M125.6 368.9h0M198.3 268.2h0M169.1 291.3h0M144.7 332.4h0M147.3 346.8h0M146.4 311.2h0M93 380.6h0M115.8 375.9h0M99.1 367.4h0M165.1 321.2h0M100.7 363h0M80 385.1h0M64.4 427.4h0M115.4 378.5h0M101.7 377.7h0M128.6 327.2h0M136.5 347.5h0M130.1 361.4h0M161 291.9h0M98.8 358.5h0M173.7 282.1h0M162.4 305.5h0M169.5 298.9h0M98 382.1h0M129.5 336.6h0M178.2 283.4h0M141.6 347.6h0M127.4 334h0M175 295.3h0M157.6 293.1h0M171.2 284h0M171 277.9h0M161.1 339.6h0M140.1 344.8h0M183.4 273.9h0M145.3 354.2h0M113.8 381.5h0M108 358.2h0M114.9 338h0M166.9 306.8h0M85.9 391.6h0M137.9 363.2h0M98.4 388.5h0M140.5 326.8h0M133.6 331.3h0M115.9 356.7h0M154.3 298.6h0M74.3 401.5h0M176.4 277.7h0M78 399.2h0M92.8 383.3h0M129 335.1h0M113.7 384.5h0M140.8 317.7h0M124.4 362h0M111.5 354.2h0M118.7 365.8h0M101.6 395.1h0M92.8 399.3h0M85.6 395.9h0M75.4 424.4h0M143.5 335.2h0M122.2 332h0M173.4 303.9h0M155.7 339.8h0M189.4 277.1h0M103.9 384.3h0M163.2 288.6h0M110.2 357.8h0M164.5 302.9h0M129.7 344.7h0M119 373.4h0M163.1 304.8h0M99.3 372.2h0M102.2 358h0M144.2 321.3h0M84.9 398.9h0M159.2 296.6h0M96.9 391.5h0M131.1 365.1h0M108.4 353.8h0M95.5 380.5h0M169.4 284.8h0M166.3 319.4h0M139.1 338.7h0M144.4 330.8h0M149.2 339.8h0M145 336.8h0M192.1 280.3h0M102.1 388h0M157.1 295h0M113.7 337.4h0M139.2 310.8h0M113.9 346.4h0M126.1 370.3h0M124.9 334.9h0M64.4 428.1h0M156.7 338.2h0M178 309h0M153.1 287.7h0M116.8 378.1h0M88.5 405.1h0M85.9 376.2h0M175.8 312.1h0M149.2 309h0M175.1 282.3h0M152.1 297.9h0M114.9 353.9h0M149.5 306.6h0M132.8 344.5h0M151.3 340.9h0M116.2 358.5h0M116.4 378.4h0M84.4 382.8h0M132.1 332h0M150.2 309.1h0M148.4 339.5h0M151.8 334.6h0M69.9 421.7h0M154.3 343.4h0M82.4 401h0M96.5 388.1h0M130.1 325.6h0M161.1 339.9h0M183.4 297.2h0M134.4 317.1h0M164.7 315.1h0M135.3 313.9h0M176.2 282.9h0M91.3 375.9h0M151.3 321.8h0M132.6 360.1h0M147.7 313.7h0M158.3 330.4h0M108.7 348.9h0M120 354.5h0M84.8 410.7h0M90.9 392.5h0M148.7 317.1h0M66.8 424.6h0M159.5 340.6h0M179.4 274.5h0M66.3 419.1h0M128.3 352.7h0M65.7 422.7h0M101.1 388.2h0M134.6 335.5h0M168.7 293.2h0M96.9 371.3h0M112.7 352.2h0M73.8 394.4h0M120.6 374.5h0M140.6 341.7h0M147.2 315.8h0M98.2 387.4h0M177.3 292.6h0M139.2 334.2h0M142.5 357.1h0M110.6 344.8h0M137.7 346.5h0M133.1 326.4h0M79.5 386.3h0M132.4 337.7h0M162.3 317.7h0M122.3 332.8h0M135.2 321.6h0M98.3 358.5h0M137.5 338.1h0M129.7 338.9h0M84.5 404.9h0M172.2 288.6h0M175.8 302.9h0M118.1 362.7h0M65.3 433.2h0M99 378.9h0M182.3 273.9h0M79.4 394.6h0M141.4 346.4h0M154.6 304.1h0M176.7 286.3h0M106.7 371.2h0M162.7 310.5h0M167.6 285.2h0M122.4 340.1h0M131.6 321.2h0M151.9 314.1h0M136.2 344.7h0M162.5 316h0M80.6 407.9h0M159.2 329.6h0M105.3 366.4h0M147.5 309.4h0M139.4 342.4h0M98.7 373.6h0M85.4 416.4h0M66.9 428.8h0M122.6 346h0M75.2 392.1h0M62.3 435.3h0M80.3 421h0M118.4 333.9h0M128.5 325.3h0M84.3 377.8h0M81.1 388.5h0M120.5 339h0M152.6 344.3h0M115 357.3h0M173.9 295.1h0M96.5 374.9h0M84.9 381.9h0M85.8 377.9h0M116.8 341h0M108.3 369.2h0M171.2 287.4h0M158.4 297.5h0M115.2 344.7h0M84.3 414.9h0M118.8 364.5h0M77.4 388.2h0M154.6 327h0M139.9 313.5h0M140.8 333.8h0M70.7 418.7h0M100.7 391.8h0M84.5 378.8h0M77.1 388.8h0M180.1 295.9h0M88.3 397.3h0M113.6 342h0M176.1 311.8h0M168.1 298.1h0M125.1 356.7h0M130.2 334.3h0M97.2 383.5h0M189.9 284.2h0M151 307.1h0M194.5 266.3h0M135.7 337.4h0M114.5 364.9h0M112.6 346.3h0M129.7 326.4h0M99.1 394.6h0M132.6 336.5h0M141.9 340.6h0M177.2 269.7h0M96.9 401.8h0M121.7 332.6h0M85.2 411.6h0M86.4 397.9h0M159.2 336.5h0M141.4 305.3h0M76.4 421.2h0M166.6 305h0M90.2 392h0M107.2 351.4h0M89.6 406.5h0M131.8 332.2h0M103.9 367.5h0M91.8 380.8h0M189.9 286.1h0M126.8 363.4h0M176.2 299.1h0M115.1 346.9h0M149.2 303.6h0M191.2 267.1h0M77.8 408.1h0M151.6 295.4h0M138.2 317.5h0M170 309.7h0M111.2 363h0M113.3 338.7h0M197.7 278.5h0M101.9 386.1h0M110.3 363.6h0M142.6 350.9h0M160.5 288.9h0M158.1 288.5h0M112 356.3h0M153.6 342.8h0M140 328h0M83.4 396.3h0M85.7 394.4h0M191.3 258.1h0M105.6 358.2h0M184.6 304h0M123.4 330.1h0M175.2 312.4h0M89 400.2h0M155.5 341.8h0M158.9 312h0M138.2 311h0M130.6 341.3h0M74.9 425h0M124.6 351.8h0M124.1 363.5h0M106.4 368.6h0M87.8 378h0M119.8 335.1h0M114.5 342.7h0M108.1 363.5h0M192 279.5h0M118.8 354.8h0M131.2 328.6h0M103.5 382h0M85.8 398h0M187.8 284.7h0M104.9 386.7h0M144.3 297.3h0M151.4 329.4h0M113.8 363.8h0M159.6 316.6h0M137.8 339.6h0M171.5 310.3h0M144.9 329.5h0M118.9 332.6h0M143.7 353.8h0M188.1 270.7h0M161.2 300.9h0M83.7 404.1h0M158 308.3h0M85 380.4h0M175.4 288.3h0M168 297.4h0M102.7 350.4h0M84.2 411.4h0M93.6 398.5h0M134.1 331.3h0M105.5 387.5h0M89.7 395.5h0M98.8 392.7h0M71.3 415.7h0M190.3 273.1h0M159.9 336.3h0M82.4 396.3h0M174.2 278.9h0M157.7 317.2h0M174.8 308.6h0M199.5 265.4h0M94.7 399.2h0M171.2 295.9h0M83.2 396.4h0M113.7 383.8h0M114.8 343h0M112.1 388.1h0M86.7 391h0M97.6 387.1h0M111.5 344.1h0M95.6 388.8h0M153.2 348.7h0M148.8 325.4h0M143.8 311.1h0M151 346.1h0M93.1 384.7h0M158.1 311h0M133.2 365.3h0M106.3 358.5h0M89.1 413h0M93.9 383.5h0M177.7 278.8h0M129.7 337h0M100.4 370.4h0M143.3 315.2h0M148.3 346.6h0M88.1 392.3h0M132.4 325.9h0M70.9 404.9h0M149.5 323.9h0M173.2 313.8h0M91.3 386.7h0M73.8 405.8h0M116.1 351.5h0M78.1 393.4h0M163.8 294.8h0M151.5 291.6h0M149.1 312.1h0M101.9 371.5h0M130 352.8h0M99.9 383.1h0M116.9 366.6h0M135.6 327.7h0M162.1 314.8h0M146.6 348.6h0M127.3 361h0M105.4 373.9h0M114.4 389.6h0M142 302h0M108.4 376h0M109.6 380h0M107.6 393.3h0M77.4 399h0M121.2 340.1h0M152.2 342.7h0M99.2 382.8h0M109 362.6h0M156.4 310.7h0M97.9 392.6h0M113.9 363.4h0M147.7 321.9h0M180.9 307h0M126.4 331.9h0M70.4 403.8h0M80.3 412.5h0M141.6 331.3h0M123.9 340.5h0M124.1 335.9h0M68.7 422.5h0M155 299h0M101.7 369.9h0M81.5 401.4h0M77.7 407h0M134.5 365.2h0M109 361h0M99.6 398.6h0M141.7 344h0M174 295.9h0M121.4 331.1h0M81.8 416.1h0M179 307.7h0M122 360.8h0M159.1 302.1h0M183.4 264h0M118.4 366.7h0M89.6 387.1h0M180.8 286.9h0M109.7 343.1h0M113.9 353.3h0M113.9 387.4h0M74.1 412h0M109.1 342.8h0M141.5 340.3h0M114.3 366.6h0M146.1 295.5h0M184.9 284.1h0M132 345.1h0M113.3 383.9h0M151.7 316.2h0M78.2 384.7h0M110.2 387.3h0M83.5 405.5h0M156.5 342.4h0M152.4 343.7h0M160.4 341.5h0M144.7 333.1h0M97.1 370h0M100.6 376.5h0M79.9 402h0M109.6 358.2h0M65.6 418.2h0M108.8 356h0M145.7 345.3h0M131.1 325.7h0M106.3 345.9h0M81.5 394.4h0M86.8 391.2h0M175.1 287.5h0M93.8 365.3h0M107.2 380.3h0M184.8 291.9h0M131.1 357.8h0M117 363.7h0M72.6 424h0M152.3 314.5h0M74.5 401.5h0M174.1 285.2h0M136.5 328.7h0M93.2 373.8h0M103.9 386.1h0M158.3 325h0M133.5 351.4h0M159.1 311.6h0M173.4 290.7h0M152.8 348.4h0M69.5 415.3h0M136.6 349.2h0M122.2 367.9h0M101 369.3h0M117.3 335.5h0M152.1 291.3h0M180.7 283.8h0M165.5 297.9h0M161.8 314.6h0M139.3 319.5h0M90.2 392.4h0M173.4 282.9h0M170.1 281.6h0M93.4 366.1h0M132.6 343.6h0M113.6 373.6h0M127.1 350.5h0M122.5 356.9h0M141.8 321h0M73.1 397.1h0M78.2 390h0M154.7 313.4h0M82.6 403.9h0M139.4 356.3h0M151.8 347.6h0M99.2 355.8h0M102.4 391.7h0M99.1 390.8h0M179.9 308.1h0M118.1 369.4h0M182.7 281.4h0M170.8 283.4h0M147.6 293.8h0M138.8 320.1h0M132.6 337h0M176.4 277.4h0M154.3 344.7h0M139.2 344.6h0M137.8 348.8h0M148 320.7h0M195.5 276.7h0M155.8 310.6h0M80.9 398.1h0M150.9 290.1h0M151.1 318.3h0M120.8 354.7h0M102.9 375.3h0M148.2 346.4h0M174.1 278.6h0M94.8 365.1h0M177.9 292.4h0M86.4 407.8h0M164.4 299h0M128.3 325.2h0M148.2 295.1h0M173.1 306.5h0M192.7 285.5h0M165.6 287.8h0M145.7 301.1h0M112.6 337.7h0M102.7 350.6h0M144.1 312.4h0M106.8 346h0M71.7 431.8h0M188 288h0M136.7 325h0M95.3 370.9h0M115.2 371.9h0M147.5 323.6h0M137.1 338.3h0M140.6 316.1h0M76.1 400h0M119.5 372.1h0M90.5 390.7h0M173.9 310.2h0M102.3 376.9h0M98.7 374.2h0M94 379.1h0M185.6 271.2h0M128.6 333.1h0M116.1 358.7h0M117.7 376.5h0M161.6 316.2h0M165 285.7h0M129.4 334.4h0M181.3 278.2h0M151.7 331h0M95.4 369.1h0M148.2 315.1h0M107.7 367.3h0M161.8 327h0M120.2 337.9h0M77.1 400.6h0M118 348.6h0M144 297.9h0M146.2 329.8h0M192 263.7h0M118.6 360h0M173.8 313.6h0M149.8 327.8h0M78 400.2h0M119.5 341.6h0M160.8 328.4h0M190.3 268h0M133.6 324.4h0M136.7 312.6h0M103.7 375.2h0M108.2 385.7h0M143.5 298h0M74.2 429.3h0M158.8 287.7h0M180.3 271.5h0M77.7 408.1h0M124.9 360.3h0M93 377.8h0M112 346.1h0M92.9 369.1h0M111.2 339.7h0M158.9 282.8h0M159.2 339.9h0M132 346.1h0M100.7 353.3h0M112 385.6h0M116.3 366.3h0M175.9 289h0M199.7 274.3h0M123.3 356.6h0M149.4 330.9h0M138.5 344.1h0M137.4 328h0M94.4 391.5h0M164 289.6h0M199.4 253.9h0M130.9 335.5h0M88.4 402.4h0M186 290.2h0M170.4 305.7h0M134.2 318.3h0M141.1 312.4h0M150.8 295.4h0M147.6 320.9h0M177.9 303.5h0M65.2 423.3h0M157.9 342.1h0M77.1 406.5h0M179.2 301.1h0M175.8 285.6h0M91.3 381.9h0M100.6 375.2h0M106.8 343.8h0M94.3 399.4h0M126.2 359.8h0M150.4 293.6h0M117.6 339.5h0M138.8 343.4h0M138.6 339.8h0M95.9 383.4h0M130 362.7h0M150.2 290.1h0M190.2 290.8h0M118.7 346.6h0M139.8 347.9h0M193 265.1h0M177.2 276.4h0M70.2 415.7h0M95.6 387.4h0M146.3 346.8h0M130.1 325.8h0M152.2 344.3h0M133.8 335.2h0M77.7 414h0M94.5 389.8h0M128.2 336h0M117.1 378.4h0M98.4 374.1h0M127.4 364.9h0M84.6 402.8h0M93.2 377.2h0M97.8 372h0M193.7 271.8h0M138.8 331.6h0M164.4 326.7h0M97.8 388h0M129.6 338.1h0M111.1 387h0M153.4 298.6h0M190.6 288.7h0M77.5 414h0M117.5 351.9h0M107.4 375.8h0M113 337.7h0M160.8 321.1h0M94.4 406h0M77.3 422.1h0M174.2 302.1h0M82 417.7h0M118.3 350.7h0M84.1 414.6h0M167.1 286.4h0M79.8 409.9h0M102 360.1h0M166.2 303.6h0M124.5 331.5h0M136.3 362.1h0M119.9 331.1h0M135.4 362.9h0M199.9 254.6h0M73.3 427h0M175.9 293.1h0M142.8 327h0M176.7 302.2h0M159.4 303.4h0M150.7 345.1h0M80.9 417.5h0M79.7 404h0M152.8 343.6h0M100.3 375.4h0M167.9 286.1h0M175.1 290.2h0M92.8 387.6h0M80.1 411.3h0M100.8 366.4h0M73.5 409.9h0M166.6 307.5h0M84.8 405.8h0M108.7 347.7h0M98.5 379.2h0M198.5 272.8h0M192.1 281.7h0M151.4 313.4h0M139.3 352.8h0M111.8 352.6h0M118.9 375.3h0M158.2 311.8h0M121.6 359.7h0M144.2 351.8h0M103.3 355.7h0M117.8 349.1h0M182.4 290h0M151.7 340.3h0M168.8 308.5h0M87.6 382.8h0M95.3 370.5h0M117.4 339h0M132.9 340.6h0M129.7 362.2h0M150.1 336.8h0M129.3 328.7h0M107.9 344.9h0M151.1 323.4h0M107.4 361.9h0M136 349.7h0M144.2 314.5h0M109.6 372h0M183.1 296.2h0M86.2 412h0M98.9 397h0M81 413.3h0M77 398.4h0M129.8 361.9h0M124.2 327.3h0M79.3 420.6h0M149.3 340.9h0M71.3 430.9h0M143.6 346.5h0M106.7 385.9h0M80.5 401.1h0M199 253.7h0M136.7 324.6h0M142.1 354.8h0M96.7 377.1h0M110.4 384.3h0M162.6 334.1h0M126.1 355.7h0M133.2 327.2h0M75.9 421.3h0M143.2 344.2h0M99.4 359.7h0M79.3 419.7h0M128.8 326h0M105.2 379.1h0M74.1 399.8h0M113.8 345.4h0M164.7 302.5h0M70.8 420.7h0M106.1 386h0M154.8 310.1h0M113.2 384.4h0M140.4 346.9h0M167.7 295.7h0M143.1 324.1h0M168.5 305.6h0M175.3 293.1h0M109.9 378.5h0M129 345.9h0M183 265.1h0M64.7 426.5h0M164.3 318.3h0M109.7 391.6h0M192.4 279.5h0M115.2 338h0M197.1 274.3h0M128.7 341.8h0M170 298.2h0M114.1 349h0M80.4 400.2h0M149 304.6h0M124.2 344.7h0M143.6 316.5h0M132.6 332.3h0M108.2 346.2h0M177.1 290.2h0M94 371.1h0M156.8 308.9h0M127.2 347.5h0M132.5 346.8h0M168.7 317.3h0M86.9 412.1h0M149.9 292.6h0M99.8 375h0M128.3 344.9h0M157.7 302.2h0M169 282h0M120.8 354.8h0M135.9 344.7h0M149.3 312.1h0M120 343.4h0M87.6 400.6h0M100.9 395.8h0M149.3 322.2h0M86.3 401.2h0M169.6 293.1h0M188.1 293.9h0M169.5 281.1h0M142.3 326.1h0M99.5 396.7h0M104.2 390.7h0M124.3 338.1h0M151.8 321.9h0M160.9 293h0M71.7 401.2h0M183.7 285.1h0M158.7 317.5h0M65.9 430.2h0M179.4 269.8h0M147.6 299.5h0M70 407.4h0M108.4 359.8h0M81.4 386.9h0M139.9 315.8h0M74.7 427.4h0M112.2 366.8h0M145 320.5h0M154.6 293.1h0M112.3 390.4h0M155.3 342.8h0M108.8 391.4h0M193.7 281.8h0M135.1 319.7h0M68.7 425.2h0M143 310.9h0M125.1 347.1h0M140.8 337.2h0M147.9 329.6h0M75.9 403.3h0M68 427.9h0M98.6 390.2h0M175.9 302.1h0M165.4 308h0M146.2 344.8h0M179.7 306.9h0M184.3 294.2h0M139.6 327.9h0M91 408h0M127.7 334.7h0M146.3 336.1h0M162.6 301.1h0M120.8 342.6h0M138.9 313.3h0M97.2 378.4h0M73.5 397.1h0M137.9 332.8h0M97.8 357.9h0M146.3 299h0M117.1 367.7h0M117.7 371.6h0M119 361.7h0M118.9 375.3h0M74.3 410.8h0M166.1 305.7h0M146.5 328.1h0M145.4 312.8h0M189.9 259.4h0M192.8 259.6h0M150 287.9h0M77.4 403.3h0M166.9 300.1h0M138.9 327.8h0M112.3 342.2h0M156.9 311.9h0M84.9 406.2h0M168.3 291.4h0M128.7 344h0M166.2 291.6h0M179.9 287.9h0M106 348.3h0M117.4 372.3h0M173.7 295h0M185.5 269.6h0M87.4 405.8h0M86.6 374.9h0M108.4 351.1h0M157.5 342h0M190.9 275.2h0M150.8 324.6h0M114.1 340.4h0M181.4 276.1h0M154.8 311.3h0M71 417.8h0M188.6 288.2h0M75.6 407.2h0M119.5 359.2h0M106.8 353.9h0M159.9 285.7h0M98.9 397.3h0M148.2 301.5h0M105.7 349.7h0M86.8 387.3h0M75.6 395.8h0M180.7 284.8h0M130.7 323.7h0M164.6 294.5h0M155.5 338.2h0M195 260.4h0M178.9 278h0M123.7 344.2h0M159.3 286.8h0M89.1 408.1h0M92.1 392.7h0M101 363h0M144.1 336.8h0M166.3 320.8h0M145.5 294.6h0M184.8 301.1h0M114.6 351.9h0M112.3 337.4h0M113.4 341.4h0M108.7 347.5h0M154.4 309h0M138.1 321.1h0M80.2 381.8h0M154.4 308.8h0M136.6 347.3h0M89.6 410.6h0M86.8 411.9h0M139.5 313h0M133 328.8h0M66.5 419.4h0M101.1 360.6h0M159.9 294.9h0M75.9 391.7h0M114.9 379.5h0M154.4 287.1h0M159.6 315h0M88.4 390.1h0M193.2 269.8h0M131.5 328.1h0M116.2 336.4h0M77.3 408.6h0M159.5 302.9h0M93.3 365.8h0M126.1 353.1h0M157.3 316.9h0M114.2 336.2h0M148.6 290.2h0M156.1 316.3h0M119.7 338.9h0M147.9 324.2h0M95.8 376.9h0M149.9 305.6h0M156.1 347.6h0M96.9 394.5h0M102.3 355.2h0M180.6 269.5h0M152.6 331.7h0M106.1 386.1h0M130.9 323.8h0M156.5 344.8h0M198.2 268.5h0M154.7 311.5h0M108.2 381h0M91.8 393.5h0M155.2 328.2h0M146.5 333.5h0M182.2 269.4h0M134.6 337.6h0M106.3 363.2h0M83.8 393.5h0M163.7 300.3h0M108.2 386.9h0M118.4 353.3h0M152 305h0M78.4 390.7h0M81.1 389.3h0M99.2 369.5h0M151.5 329.8h0M83.7 402.4h0M181.1 277.9h0M182.6 287.7h0M108.1 393.4h0M108.7 357.1h0M87.9 394h0M173.9 302.5h0M176.6 283h0M129.3 357.5h0M114.4 347.5h0M174.4 274.4h0M128.9 350.1h0M144.2 356.4h0M67.1 434.6h0M158.5 303.5h0M148.4 307.2h0M142.2 351.9h0M100.9 373.9h0M118.6 356.8h0M104.5 351.7h0M153.2 346.1h0M124.9 349.2h0M71.2 412.4h0M168.7 297.9h0M160.6 287.2h0M109.3 384.5h0M131.9 338h0M133.7 333.7h0M175.2 280.5h0M151.4 331.7h0M109.5 372.9h0M101.4 396.6h0M170.6 281.5h0M149.8 293.5h0M99.7 395.1h0M71 405.3h0M99.7 371.4h0M109.3 358.2h0M99.8 380.6h0M116.2 335.6h0M111.3 363.6h0M171.3 309.7h0M98.1 357.7h0M166.4 318.3h0M187.1 263h0M66.7 423.7h0M78.3 398.2h0M190.3 263.8h0M74.9 423.9h0M129.5 334.9h0M140.1 328.8h0M66 431.1h0M146.7 316.2h0M182.3 267.2h0M102.8 380.9h0M182.5 267.6h0M81.2 409.4h0M151.2 339.1h0M68.3 415.8h0M174.4 303.5h0M109.3 376.6h0M186.5 268.4h0M128.3 347h0M108.8 345.3h0M164.7 302.7h0M183.7 277.9h0M100.8 357.5h0M185.1 286.7h0M147.1 310.7h0M73.4 399.3h0M149.3 322.2h0M122.3 357.7h0M184 267.5h0M112.9 373.5h0M168.1 279.6h0M155.4 317.1h0M137.8 313.3h0M152.8 326.6h0M185.7 264.9h0M128.5 329.4h0M157.3 296.1h0M83.4 387.6h0M150.6 319.5h0M170.5 314.8h0M165.1 292.7h0M75.6 411.4h0M112.8 390.1h0M119.9 336.7h0M167.3 296.6h0M149.5 301.9h0M136 328.1h0M152 287.9h0M129 351.9h0M115.8 366.7h0M153.2 348.6h0M73.1 402.9h0M156.8 341.4h0M160.9 293.4h0M118.5 374.5h0M158 301.6h0M152.6 311.9h0M171.7 308.3h0M157.5 346.7h0M65 431.1h0M160.7 307.5h0M77.2 420.8h0M155.3 302.7h0M91.9 383.3h0M76.5 396.2h0M157.9 342.5h0M140.7 323.6h0M144.7 294.5h0M142.2 325.8h0M148.9 293.3h0M110.3 359.7h0M132.7 322.1h0M148.8 292.3h0M113.3 345.2h0M78.5 396.5h0M109.1 385.5h0M141.9 331.9h0M99.1 392.4h0M124.7 351.3h0M146 332.8h0M140.4 322.6h0M187.3 298.9h0M68.7 431.5h0M79.4 400h0M143.6 306.2h0M133.9 348h0M196.1 258h0M179.9 269.7h0M137.2 358.5h0M183.5 279.4h0M135.5 331.9h0M91 408.1h0M146.3 308.5h0M138.7 326.4h0M65.6 418.8h0M159.7 304.1h0M70.2 404.8h0M161.1 337h0M116.9 351.5h0M140.8 351.6h0M176.5 274.2h0M165.9 307.1h0M158.4 306h0M138.8 337.8h0M153.8 300.7h0M85.9 403.2h0M157.8 318.1h0M130.7 356.4h0M97.1 389.5h0M99.5 359.7h0M158.7 344.5h0M120.8 343h0M154.9 328.4h0M120.8 344.3h0M151.9 293.1h0M109 389.1h0M137.7 335h0M111.6 355.5h0M67.8 411.2h0M189.4 276.1h0M168.1 293h0M149.2 294.6h0M199.8 283.6h0M163.6 325.4h0M153.9 341.8h0M149.3 325.5h0M127 343.2h0M119.4 374.9h0M146.2 311.2h0M107.4 391.4h0M156.4 299.3h0M121.3 369.1h0M140.6 335.8h0M152.6 346.7h0M90 393.4h0M88.8 395.2h0M168.2 290.5h0M166.6 317.5h0M147.7 289.9h0M157.9 296.6h0M93.2 382.5h0M75.2 396h0M135 346.9h0M68.3 418.5h0M97.9 374.7h0M141.9 301.8h0M79.6 394h0M132.9 321.3h0M126.4 332.7h0M142.9 338.8h0M118.6 372h0M96.7 360.9h0M85.3 399.6h0M112.5 356.4h0M117 351.2h0M115.5 367.8h0M90.6 393.6h0M126.2 332.7h0M129.1 364.3h0M174.2 276.2h0M183.7 296.8h0M142.8 350.4h0M93.3 366.8h0M140.9 333.8h0M163.8 306h0M151.6 343.2h0M111.5 378.2h0M105.2 359.5h0M161.1 313.4h0M142.6 330.1h0M138.2 326.2h0M83.4 388.5h0M157.2 301.3h0M173.1 293.4h0M160.2 327.1h0M159.1 309.7h0M177.7 288.7h0M122.8 361.9h0M179.8 300.1h0M165.2 325.5h0M184.3 290.9h0M123.2 369.3h0M153.1 296.7h0M117.1 375.1h0M198.7 257.6h0M84.4 397.5h0M95.4 403.8h0M76.7 424.1h0M190.8 286.1h0M117.5 353.3h0M165.1 315.5h0M103.1 367.2h0M107.8 392.1h0M122.1 352.9h0M97.3 377.4h0M178.4 293h0M163.1 289.5h0M149.1 333.9h0M164 304.7h0M160.9 303.1h0M173.8 277.1h0M88.1 395.2h0M131.1 344.7h0M185.1 285.4h0M112.7 353.4h0M142.4 340.1h0M97.5 368.8h0M99.4 395.9h0M133.6 342.1h0M89 378.6h0M91.2 409.6h0M147 298h0M135 345.7h0M97.7 385.1h0M157.4 347.2h0M171.6 309.7h0M148.4 291h0M146.9 318.4h0M154.9 294.6h0M71.9 429.3h0M94.7 400.6h0M141.9 340.6h0M101 373.9h0M129.3 326.5h0M106.8 360.5h0M105.6 384.2h0M171.9 308.7h0M104.9 353.5h0M154.6 327h0M145.5 311.7h0M65.5 418.7h0M123.4 335.8h0M103.1 359.1h0M101.7 386.7h0M81.7 407.1h0M190.4 259.2h0M164.3 297h0M143.2 325.1h0M145.1 314.2h0M80.4 407.3h0M112.8 358h0M147.4 327.4h0M82.3 383.5h0M155.6 337.4h0M73.5 399.1h0M194.9 282.1h0M66.9 428.2h0M131.1 343.3h0M151.7 334h0M148.1 308h0M162.8 311.2h0M143.1 320.4h0M128.3 361.2h0M139.5 309.3h0M99.3 378.2h0M93.3 394.5h0M197.6 268.7h0M128.3 354.3h0M100.4 365h0M75.4 424.7h0M161.8 337.8h0M124.2 349.5h0M143.7 319.7h0M166.6 310.1h0M80.7 413.3h0M117 360.1h0M189.5 260.7h0M156.2 302.7h0M150 310.9h0M160.8 292h0M172.9 295.7h0M86.9 377.6h0M142.1 351.9h0M148.7 340.8h0M118.6 341.2h0M145 314.9h0M154.6 346.9h0M136.8 336.6h0M74.5 416.9h0M172.1 286.2h0M145.8 320h0M158.3 308.6h0M84.8 384h0M82.2 390.3h0M84.3 389.6h0M89.7 389.6h0M112.2 348.8h0M76.3 420.2h0M139.2 313.6h0M151.5 297.1h0M129.2 349.3h0M114.6 336.5h0M104.2 388.6h0M141.3 357.8h0M74.6 406.9h0M70.3 433.2h0M129.8 368.4h0M113.4 371.3h0M128 346.1h0M123.8 329.9h0M138.8 349.2h0M96.2 369.3h0M163.5 319.9h0M159.7 286.8h0M89.3 385.7h0M191.8 261h0M138.2 326h0M81.7 417.6h0M153.5 303.3h0M142.7 322.7h0M64.1 428.3h0M95.7 397h0M152.2 328.1h0M79.7 398.4h0M152.1 328.6h0M110.6 361.5h0M197.3 276.3h0M161.2 287h0M103.1 380.5h0M73.6 400.9h0M92.7 385.5h0M161.7 295.7h0M128.9 368.7h0M160.1 293.8h0M108.4 382.3h0M136.4 316.4h0M151.3 344.1h0M117.1 378.2h0M85.4 374.3h0M175.8 308.6h0M191.1 258.3h0M148 298.3h0M74.1 406.7h0M92.1 373.4h0M178.9 277.2h0M184 303.5h0M147.6 352.3h0M175.9 304.1h0M147.3 325.7h0M131.6 323.4h0M124.3 343.2h0M160.9 342.1h0M115.3 349.9h0M100.4 366.1h0M142.1 339.1h0M84.6 379h0M119.6 363.1h0M137 315.6h0M191.5 258h0M154.8 340.6h0M98.6 387h0M107.7 342.6h0M95 367h0M94.1 401.2h0M96.4 368.1h0M106.6 381.6h0M102 364.9h0M105.5 346.7h0M150.1 334.2h0M155.7 322.7h0M139.8 321.1h0M83.2 377.2h0M116.2 381.7h0M66.4 414.6h0M73.7 418.8h0M78.6 411.3h0M115.5 336.7h0M194.5 265.3h0M166.1 315.2h0M111 382.8h0M114.6 367.7h0M180 308.9h0M157.7 285.5h0M189.6 271h0M104.4 395.7h0M78.7 381.8h0M142.3 346.2h0M74.3 394.8h0M123.2 362.7h0M159.4 324.1h0M101.3 375h0M100 391.5h0M108.5 366.7h0M188.1 273.9h0M179.3 269h0M129.3 365.1h0M189.1 269.2h0M150.7 305.1h0M137.2 335.3h0M98.8 360h0M196.9 266h0M96 395.3h0M79.2 398.8h0M181.8 296.8h0M149.9 306.3h0M107.7 364.2h0M112.5 378.4h0M140.6 311.9h0M171.8 276.6h0M175.6 299.7h0M136 316.8h0M168.9 281h0M170 283.3h0M110.9 374.2h0M108.1 367.4h0M88.5 392h0M195.9 281.6h0M120 338.3h0M111.4 355.6h0M130.7 359.5h0M138.8 348.5h0M165.9 308.9h0M111.9 341.1h0M125.4 339.1h0M142 335h0M131.1 352.4h0M128.4 358h0M153.8 307.5h0M77.5 407.6h0M70.8 409.1h0M121 336.2h0M130.5 344.4h0M102.3 366.5h0M109.7 347.8h0M95.9 403.8h0M85.1 385.4h0M121.2 366.1h0M197.1 257.9h0M129.8 341.2h0M71.5 411.8h0M140.6 313.5h0M189.6 281.3h0M175.4 271.5h0M179.8 305.6h0M114.2 366.4h0M83.1 402.4h0M94 365.3h0M157.1 326.9h0M74.3 426h0M144.8 337.7h0M109.2 381.8h0M141.5 309.2h0M140 358.3h0M166.8 297h0M162.6 290h0M167.4 303.1h0M69.1 432.4h0M173.1 294h0M134 321.8h0M175.4 277.8h0M108.6 366.8h0M71.7 424.8h0M78.9 381.3h0M178 281.7h0M99.5 393.2h0M71.5 402.3h0M80.4 390.7h0M106.7 382.4h0M117.7 361.7h0M105.3 351.7h0M197.2 282.5h0M194.9 286.1h0M155.9 309.9h0M145.3 340.2h0M109.1 392.4h0M149.1 316.7h0M121.1 340.6h0M170.1 278.3h0M119.5 339.4h0M110.1 345h0M76.6 402.8h0M119.1 335.8h0M68.9 425.2h0M176.5 273.7h0M92.7 377h0M114.4 383.3h0M157 307.2h0M112.6 359.9h0M161.1 304.9h0M127.5 365.1h0M143.7 303.1h0M111 391.6h0M153.5 337.8h0M67 430.5h0M134.8 317.3h0M102.1 380.8h0M157.6 299.2h0M97.5 398.8h0M120 331.1h0M98.9 382.2h0M72.9 430.2h0M141.5 342.3h0M109.3 345h0M170.3 293.4h0M84.9 399.3h0M77.5 426.3h0M196.3 259.8h0M154.1 310.3h0M73 413.2h0M178.2 278.9h0M94.1 406.2h0M147.5 312.3h0M171.1 286.6h0M92.4 393.6h0M66.6 431.8h0M144.9 306h0M159.9 303.9h0M106.9 372.8h0M141.4 357.5h0M145.2 322.1h0M139 316.3h0M108.1 390.5h0M119 373.5h0M131.7 358.7h0M165.3 320.9h0M150.6 309.7h0M192.9 264.3h0M119.2 369.4h0M116 358.3h0M77.4 388.9h0M164.4 310.6h0M83.4 415.6h0M164.2 308.1h0M105.8 366.1h0M77.7 391.8h0M112.7 363h0M164.5 312h0M87.6 405.6h0M84.4 380h0M135 317.8h0M114.2 379.6h0M76.1 411.3h0M145.8 294.6h0M173.3 277.6h0M82.7 387.9h0M145.1 336h0M139.8 326.4h0M141 322.9h0M127.2 357.2h0M78.5 418.3h0M83.1 417h0M186.7 296.7h0M145 352.4h0M148.3 323.6h0M91.7 376.7h0M113.7 388.6h0M108.2 357h0M116.3 360.8h0M173.3 278.9h0M92.9 390.6h0M105.3 387.6h0M171.7 304.9h0M96.4 367h0M77.1 397.3h0M127.2 351.6h0M83 405.1h0M167.7 299.1h0M127.4 365.6h0M134 342.5h0M137.9 349.2h0M90.3 397.7h0M145.9 329.8h0M73.4 411h0M115.2 374.2h0M69.9 410.5h0M184.1 263.7h0M145.6 329.6h0M137 362.6h0M132 340.3h0M114.1 386.3h0M160.6 293.9h0M106.8 383.7h0M148.7 328.4h0M149.3 302.8h0M159.5 287.6h0M175 312.3h0M128.2 349.1h0M110 356.5h0M106.6 389.8h0M131.3 348.9h0M177 301.9h0M174.6 299.1h0M84.9 401.6h0M75.6 413.3h0M147.5 332.1h0M148.1 290.3h0M167.1 294.4h0M89.8 393.2h0M159.5 317h0M156.2 285.6h0M72.4 424.9h0M119.1 372.6h0M186.2 272.6h0M173.4 282.9h0M164.5 290.1h0M134.4 364.6h0M140 319.3h0M192.1 279.5h0M170.4 303.6h0M76.3 421.3h0M80 382.3h0M170.5 293.8h0M169.7 292.9h0M87.5 376.8h0M70.2 431.9h0M157.2 347h0M152.1 307.1h0M198.8 270.6h0M121.1 330h0M116.3 363.8h0M182.9 278.7h0M109.9 391.5h0M147.1 313.8h0M89.4 388.2h0M83.2 396.4h0M121.3 368.6h0M158.1 345.5h0M150.5 325.1h0M144.8 311.2h0M115.7 352.9h0M132 324.9h0M103.4 380.2h0M75.4 404.1h0M129.2 362.8h0M89 397.8h0M153 346.7h0M101.1 393.7h0M167.4 298h0M82 413h0M158 282.8h0M161.7 304.3h0M132.7 323.5h0M86.7 386.9h0M103.5 366h0M189 268.6h0M100 365.4h0M168.4 308.3h0M133.2 321.1h0M164.4 290h0M90.1 371.9h0M163 321.7h0M162.9 296.4h0M181.5 274.4h0M139.9 347.9h0M155 347.2h0M171.1 306.4h0M107.4 386.8h0M159.2 296.8h0M112.3 348.4h0M140.4 322.8h0M156.3 324.6h0M144.3 356.2h0M160.7 304.4h0M136.9 335.6h0M102.2 369.3h0M70.6 423.4h0M190.9 267h0M104.5 387.4h0M116.1 370h0M112.8 348.6h0M76 392.4h0M146.6 351.8h0M104.9 367.3h0M88.2 413.8h0M77.2 413.4h0M78.8 394.8h0M186.1 295.6h0M105.4 388.6h0M79.5 385.7h0M110.8 355.6h0M176.9 299.1h0M141.9 356.5h0M143.9 299.2h0M181.7 300.4h0M171.7 287.9h0M166.5 298.3h0M128 342.5h0M187.5 271.3h0M131.8 352.3h0M154.8 301.8h0M175.7 286.3h0M134.8 337.8h0M69.9 411h0M178.1 272.7h0M146.8 319.7h0M123.5 328.6h0M151 344h0M153.4 300.1h0M189.1 265.2h0M193.9 280.6h0M141.2 313.4h0M66.3 426.8h0M149.5 291.9h0M119.6 356.6h0M194.8 267.9h0M141.5 319.7h0M140.2 356.8h0M81.4 401h0M140.8 315.7h0M148.2 338.7h0M120.5 374.2h0M144.9 346.6h0M160.3 332.5h0M109.4 359.8h0M158.6 284.2h0M122.2 366.1h0M164.3 287.4h0M103 357.9h0M114.6 388.9h0M163.8 287.9h0M105.3 388.6h0M154.2 318.2h0M160.1 317.4h0M160.8 298.9h0M105.5 393.7h0M93.3 380.2h0M92.6 379.1h0M96 381.8h0M87.9 403.2h0M148.7 344.7h0M169.9 279.3h0M141.8 334.1h0M143 332.1h0M141.8 311.3h0M172.9 293.1h0M119 354.2h0M122.4 362.4h0M115.4 343.2h0M109.4 340.5h0M173.8 291.7h0M97.9 367.2h0M161.5 287.4h0M77.2 390.8h0M157.4 305.5h0M99.3 377.6h0M194.9 283.7h0M147.3 330.3h0M123.6 359h0M107.6 345.5h0M120 357.7h0M67.3 414.7h0M121.1 373.1h0M136.3 346.5h0M138.1 327.8h0M159.8 289.3h0M80.4 379.6h0M159 319.8h0M83.4 413h0M161.8 309.4h0M194.8 256.5h0M192.5 287.1h0M161.5 316.7h0M127.8 348.3h0M154.2 341.4h0M97.2 367.6h0M141.4 324.1h0M136.8 347.2h0M118 364h0M98.8 396.6h0M138.4 328.6h0M186.2 287.3h0M115.1 355.2h0M160.1 304h0M77.1 422.4h0M69.5 404.1h0M159.4 289.6h0M142.7 345.7h0M77.2 397.6h0M161.1 293.9h0M107.2 394.5h0M107.9 347.5h0M195 285.2h0M104.9 352.2h0M134.4 360.9h0M182.2 290.2h0M113.9 370.5h0M159.5 320.5h0M160.8 326.1h0M101.4 366h0M197.5 258.7h0M105.5 354.4h0M160.4 298.4h0M91.2 394.4h0M80.8 396.9h0M118.4 343.1h0M108.4 375h0M88.6 407.1h0M67.6 412.8h0M109.5 380.6h0M141.4 321.1h0M65.4 429.2h0M105 375.5h0M145.6 346.9h0M167.6 296.6h0M167.6 292.3h0M199.3 255.8h0M150.1 295.3h0M103.6 373.7h0M133.2 329.4h0M130.3 365.7h0M94.6 401.3h0M72.2 404.2h0M141.7 310.9h0M91.3 394.1h0M114.5 385.5h0M106.3 361.9h0M88.4 373.8h0M114.5 354h0M73 419.2h0M197.1 256.1h0M131.1 324.7h0M169.4 278.6h0M165.8 299.2h0M142.2 326.4h0M136.5 331.6h0M83.1 411.5h0M136.9 329.6h0M166.8 286.1h0M160.7 322.8h0M160.3 325.4h0M171.4 283.4h0M103 395.9h0M153.7 329.1h0M109.3 360.2h0M144.8 336.9h0M193.5 274h0M158.5 314h0M128.3 356.5h0M157.7 297.8h0M76.4 387.6h0M105.5 366.8h0M199.9 258.2h0M167.1 302.8h0M91.9 381.9h0M69.6 425.5h0M70.9 411.3h0M166.8 286.1h0M131.1 361.7h0M105 376h0M74.1 420.2h0M156.9 312.3h0M154.4 306.2h0M124.4 347.7h0M176.9 306.4h0M135.3 327.3h0M178.4 290.1h0M115.6 367.2h0M131.3 349.2h0M77.5 388.6h0M184.6 277.8h0M100.9 393.1h0M112.1 343.2h0M150.7 305.3h0M107.3 358.8h0M139.2 361.4h0M148.3 337.4h0M156.8 319.7h0M198.5 285h0M84.5 396.9h0M90.8 373.9h0M161.7 286.6h0M196.9 272.7h0M103.1 361.6h0M97.1 399.9h0M143.2 352.6h0M142.1 344h0M115.5 335.2h0M138.1 343.6h0M163.2 310.7h0M103.2 378.3h0M80.1 390.4h0M166.4 324.7h0M146.1 340.1h0M148.5 321.9h0M127.9 346.9h0M79.2 381.2h0M144.2 353.2h0M179.2 279.2h0M191.7 275.1h0M86.7 407.1h0M145.1 347.6h0M155.8 337.9h0M121.1 368.3h0M67.8 410.2h0M97.6 388.2h0M65.2 431h0M141 337.3h0M178.1 276.5h0M145.7 302.8h0M161.6 305.4h0M190 271.1h0M105.3 354.6h0M174.5 292.6h0M198.1 283.3h0M145.2 294.5h0M120 346.9h0M109.1 342.7h0M189 278.3h0M98.3 374.5h0M192.8 263.1h0M161.8 332.4h0M96.4 370.4h0M117.4 349.1h0M78.4 410.5h0M172.2 293.5h0M172.4 293.3h0M112 385.8h0M80.2 382.1h0M120.3 353.8h0M117.2 367.5h0M179.9 269.1h0M80.8 396.6h0M177.8 303.6h0M76.7 426.2h0M123.6 351.1h0M140.7 328.8h0M151.3 324.9h0M159 329.6h0M165.7 321.7h0M96.3 367.5h0M119.6 375h0M109.4 366.4h0M181.8 289.1h0M92.5 371.8h0M140.9 326.1h0M145.8 339.8h0M103.1 374.1h0M107.1 353.1h0M80.4 404.9h0M161 343.5h0M175 275.6h0M139.6 313.6h0M62.5 435.4h0M112.5 346.4h0M120.2 368.3h0M83.8 404.1h0M152.9 295.6h0M129.9 351.7h0M96.2 397.4h0M174.6 300.6h0M76.9 416.9h0M110 381.5h0M162.2 312.5h0M74.1 414.5h0M138.3 320.7h0M152.5 297.3h0M74 405.7h0M109 393.3h0M186.7 280.2h0M98.7 373.9h0M112.6 375.4h0M156.4 312.9h0M134.4 364.9h0M150.5 309h0M184.7 266.9h0M101.7 380.1h0M130 351h0M167.5 294.8h0M162.8 305.7h0M122.4 330.8h0M96.4 370.1h0M109.3 369.5h0M143.6 296h0M146.2 323.1h0M75.5 415.6h0M148 346h0M142.1 330.4h0M89.2 389.3h0M145 333.3h0M142.3 340.7h0M153 317.4h0M197.1 261.9h0M99.4 369.8h0M65.7 421.3h0M159 318.8h0M110.7 377.7h0M144.7 356.3h0M116 340.7h0M75.8 406.9h0M147.5 335.4h0M160.3 323.7h0M179.2 286.6h0M166.9 318.4h0M84.8 389.7h0M150.2 293.8h0M130 340.8h0M99.6 360.3h0M74.5 397.2h0M115.6 378.7h0M150.6 296.9h0M126.5 347.7h0M175 304.2h0M166.5 299.7h0M92.8 378h0M144.7 308.1h0M118.5 334.4h0M142.7 332.3h0M98.8 362.2h0M85.3 414.3h0M148 301.1h0M163.3 317.3h0M67.5 411.9h0M175.2 279.4h0M157.9 300.1h0M184.7 282.7h0M98.5 398.6h0M115.6 385.1h0M111.7 367.6h0M119.4 348.3h0M136.3 321.9h0M78.5 414.8h0M157.9 282.9h0M157.8 303.2h0M88.8 392.7h0M133.5 362.4h0M159 320.3h0M139 328.7h0M158.8 292.3h0M179.2 294.8h0M82.6 405.2h0M121.3 361.7h0M70.5 408.1h0M130.4 344.5h0M118.8 337.6h0M146 351.6h0M147.4 323.8h0M197.2 275.7h0M179 288.2h0M155.6 344.4h0M79.7 406.9h0M158.5 329.3h0M151 323.3h0M82.4 404.6h0M174.9 278.2h0M176.7 305.6h0M133.4 365.9h0M154.1 322.1h0M154.8 322.1h0M158.3 338.9h0M156.1 341.6h0M111.1 367.1h0M114.6 344.4h0M111 386.4h0M183.4 300.3h0M130.6 327.3h0M150.7 286.8h0M71.8 412.7h0M64.3 430.6h0M131.6 321.1h0M117.6 358.7h0M171.1 313.1h0M152.8 311.5h0M177 292.4h0M71.5 422.3h0M119.2 347.7h0M148.3 334.6h0M167.2 294.1h0M185.4 266.7h0M166.8 290.4h0M151.2 321.5h0M82 402.8h0M110.3 386.6h0M152.8 348.8h0M85.7 410.6h0M113.3 364.9h0M81.8 403.8h0M145.8 308h0M153.8 305.4h0M120.6 369.6h0M97.5 371.4h0M124.4 341.3h0M124.1 343.4h0M143.8 335.6h0M78.5 415.2h0M89.5 378.1h0M82.2 379.9h0M140.1 309.1h0M144.8 326.1h0M128.7 343.2h0M153 327.6h0M173.2 283.2h0M158.8 329.9h0M108.8 343.8h0M164 294.3h0M133.6 361.8h0M152.2 301.7h0M117.9 365.9h0M150.6 346h0M159.4 286.7h0M85.8 415.8h0M72.6 410.8h0M83.3 403.7h0M167.3 296.4h0M183.2 293.7h0M96.8 402.3h0M188.4 281.1h0M155.2 318.6h0M157.5 341.9h0M180.8 264.9h0M151.5 312.8h0M79.8 380.2h0M114.6 352.1h0M167.4 309.1h0M103.7 386.2h0M143 326.8h0M146.8 332.9h0M98 363.4h0M137.6 357.9h0M93.1 378.7h0M128.1 348.6h0M73.9 402.2h0M104.9 383.3h0M156.8 342h0M140.5 344.4h0M76.8 386.9h0M109.3 355.2h0M110.5 352h0M113 389.7h0M67.6 414.7h0M97.8 400.4h0M171.9 278.2h0M135.4 329.9h0M72 416.8h0M111 368.4h0M141 346.5h0M110 381.7h0M150.1 303.7h0M157.9 323.3h0M89.2 381.2h0M99.6 385.4h0M173.8 303.2h0M113.4 390.8h0M173.6 286.6h0M111.2 339.4h0M155.4 315.5h0M97.2 396.8h0M158.3 305.7h0M121.4 341.7h0M173.9 288.9h0M87.8 380.6h0M110.1 347.9h0M112.2 384.8h0M127 365.2h0M161.2 302h0M155.5 319.4h0M122.2 368.4h0M105.5 394.4h0M148.9 317.9h0M135.5 360.7h0M135 339.1h0M98.7 370.2h0M131 366.5h0M178.4 298h0M124.5 337.8h0M162.5 329.1h0M157 310.8h0M128.1 355.2h0M144.8 348.2h0M144.2 302.2h0M70.3 428.4h0M115.4 388.2h0M151.4 297.8h0M83.2 389.4h0M74.6 403.4h0M125.9 341.1h0M186.1 281.8h0M101.1 356.9h0M127 360.4h0M140.5 333.1h0M148.4 302.9h0M143.5 345.1h0M77 392.1h0M165.4 296.7h0M126 366.7h0M160.3 294.5h0M144.7 305.2h0M95.6 388.9h0M193 260.6h0M135.8 338.1h0M131.1 350.3h0M181.9 275.7h0M71 425.1h0M134.1 357.3h0M111.5 388.3h0M177.4 294.6h0M120.1 361.5h0M82.4 417.2h0M167.1 309.7h0M145.4 330.8h0M118.9 344.6h0M173.7 290.3h0M136.3 324.6h0M194.6 279.3h0M91 374.2h0M110.8 347.2h0M158.2 329.7h0M131.8 331h0M155 306.7h0M90 373.4h0M160.2 301h0M169.7 286.9h0M147.5 304.3h0M182.5 270.6h0M83.1 417.1h0M77.6 391.3h0M157.8 341.1h0M103.9 367.2h0M176.5 305.8h0M153.7 341.1h0M131.5 344.2h0M77.8 411.3h0M153.6 313.6h0M99.7 382.1h0M97.5 399.9h0M170 280.9h0M92.8 380.2h0M90.5 378.2h0M89.7 372.8h0M90.9 383.8h0M143.8 320.7h0M161.9 329.8h0M140.6 352.7h0M122.3 339.9h0M128.8 359.1h0M172.9 298.3h0M177.6 306.8h0M105.4 351h0M162.5 335h0M70.1 420.5h0M167 300.4h0M76.2 415.9h0M120.8 344.5h0M84.8 385.6h0M71.2 419h0M127.8 332.8h0M73.7 422.5h0M122.3 357.2h0M76.1 420.4h0M125.2 350.5h0M74.4 421.6h0M94 382.6h0M156.1 322.8h0M165 319.5h0M112.4 364.9h0M149.8 346.8h0M143.5 353h0M188.4 273.1h0M151.5 292.2h0M135 345.6h0M120.4 369.1h0M147.4 298.8h0M105.5 361.9h0M145.4 338.4h0M118.3 334.8h0M176 275h0M101 394.5h0M115.5 380.5h0M155.4 344.6h0M178.3 305.5h0M117.7 337.4h0M80.6 385.5h0M72 404.9h0M85.6 395h0M172.5 278.8h0M76.8 426.1h0M141.7 333.1h0M149.3 291.9h0M163.4 325h0M106.9 368.8h0M177.7 307.3h0M109.4 380.5h0M76.5 399.1h0M161.4 297.4h0M118.9 360.5h0M104.3 354h0M135.3 337.7h0M106.1 350.6h0M141 308.8h0M138.8 321.5h0M95.8 361.7h0M117.9 337.9h0M149 332.3h0M154.6 319.6h0M99 367.5h0M90.9 379h0M90 395.1h0M196.6 269.8h0M70.2 427.9h0M112.5 380h0M113.8 387.4h0M118.1 376.1h0M171.6 303.4h0M139.6 360.6h0M153.6 331.3h0M173.2 307h0M96.5 378.6h0M78.1 404.7h0M167.8 284.6h0M163.2 306.2h0M153.3 292.8h0M71.3 402.3h0M100.9 383.6h0M138.6 329h0M168.9 298.6h0M118.4 350h0M154 325.8h0M167.8 320.1h0M176.8 283.5h0M158.7 295.7h0M114.6 377.6h0M156.8 346.5h0M77.5 386.3h0M79.7 413.9h0M191.1 274.8h0M168.7 298.8h0M108 367.9h0M83.4 382.3h0M170.2 292.9h0M127.3 362.1h0M80.6 383.9h0M100.8 391.9h0M138.6 327.2h0M163.7 298.8h0M145.7 298.6h0M85.9 413.8h0M133 320.7h0M67.3 413.1h0M118.7 369.4h0M128.3 362h0M79.3 400.6h0M119.6 333.8h0M158 285.5h0M104.1 386.4h0M91.7 399.6h0M123.6 349.2h0M177.2 286.3h0M85.4 407.6h0M107.7 391.7h0M81.8 397.9h0M157.8 343.2h0M92.7 368.6h0M129.7 366h0M91 389.4h0M78.4 423.5h0M170.8 305.5h0M155.3 298.7h0M76.4 404.7h0M146.4 324h0M138.1 341.9h0M151 310.1h0M111.5 344.3h0M72.6 406.3h0M131.8 332.4h0M187.7 296.6h0M165.7 291h0M181.1 306.8h0M102.1 362.7h0M128.6 346h0M161.3 336.1h0M111.7 345.7h0M157.7 326.7h0M133.1 334.9h0M183.6 265h0M81.1 415.3h0M189.9 275.4h0M171.3 280.8h0M74.9 409.3h0M109.5 350.4h0M127.7 368.1h0M114.5 346.6h0M188.8 270.9h0M162.6 304.6h0M153 296.4h0M113.6 370h0M154.6 307.6h0M173.4 312.8h0M113.2 366.6h0M97.2 366h0M121.1 364.5h0M123.3 352.3h0M195.2 261.7h0M160.9 326.5h0M163.8 293.1h0M77.5 395h0M136.8 316.8h0M149.6 294.2h0M170.7 307.5h0M81 398.8h0M137 322.5h0M101.6 357.8h0M174.2 282.1h0M127.4 350.9h0M145 305.3h0M123.8 370.6h0M166.9 291.7h0M155.1 307.2h0M96.9 392.2h0M141.4 357.5h0M136.7 360.9h0M155.2 345.9h0M163.7 330h0M179.4 307h0M150 305.6h0M128.9 350.4h0M101.1 379h0M132.2 362.3h0M145.4 295.3h0M72.2 401.1h0M71.2 426.1h0M162.9 311.5h0M127.9 331.5h0M154.8 298.4h0M80.8 410.6h0M113.5 359.1h0M183.8 304.8h0M167.2 303.3h0M148.7 327h0M100.1 377.3h0M92.8 378.4h0M131.4 346.6h0M152.6 297.9h0M84.2 376.2h0M179.1 308h0M169.3 298.1h0M105.2 358.7h0M92.8 386.5h0M159 311.4h0M109.6 379.7h0M101.1 382.7h0M77.4 406.9h0M111.1 373.6h0M138.9 311.7h0M79.1 382.2h0M89.9 387.1h0M115.3 382.4h0M166.8 320.8h0M122.8 365.1h0M142.1 313.8h0M91.1 395.5h0M160.4 295h0M176.4 292h0M65.3 432.5h0M148.8 313.5h0M201.2 264.3h0M205.1 262.8h0M222.6 241.2h0M207.8 278.8h0M200.9 269.6h0M216.2 245.8h0M225.8 236.4h0M203.2 251h0M204.4 281.5h0M213.9 272.7h0M212.7 244.6h0M200.8 266.1h0M200.1 256.2h0M201.7 277.3h0M201.4 271.6h0M217.7 239.2h0M206.7 258.3h0M207.8 277h0M205.8 258.2h0M208.6 262.5h0M211.6 247.6h0M212.5 280.5h0M218 270.6h0M208.9 244.7h0M209.4 246.3h0M203.5 275.3h0M206.5 253.3h0M207.3 270.9h0M214.4 273h0M225.4 236.8h0M211.8 260.5h0M209.6 248.8h0M206.8 282.4h0M200 256.5h0M203.8 270h0M211.8 259.2h0M214.8 241.4h0M205.7 259.7h0M207.3 274.7h0M218.5 276.7h0M214 238.5h0M209.2 277h0M211.2 250.7h0M205.9 268.8h0M200.9 264.3h0M204 281.2h0M208.7 252.5h0M213 250.2h0M204.9 268.7h0M213.1 270h0M210.5 251.2h0M223.9 237.2h0M203.5 262.3h0M209.4 269.6h0M225.2 237.4h0M212.3 270.7h0M221.4 242h0M212.5 254.5h0M215.8 266.2h0M224.7 232.6h0M218.9 235.2h0M205.7 274.2h0M210.7 247.2h0M218.6 246.9h0M208.4 269.1h0M209.8 275.1h0M205.5 281.5h0M220.4 237.9h0M200.3 274.1h0M208.6 281h0M207.7 263.5h0M221.4 234.9h0M204.8 256.1h0M208.1 257h0M219.5 236.4h0M203.9 271.4h0M214.6 257.8h0M220.5 251.7h0M203 261.6h0M216.7 238.3h0M216.1 250.3h0M215.7 249.4h0M200.7 257.6h0M213.2 274.6h0M215.5 271.5h0M205.1 262.7h0M209 271.8h0M209.7 257h0M224.3 236.5h0M213.9 278.6h0M204.1 259.8h0M219.3 234.5h0M207 252.1h0M203.8 275.6h0M215.3 270.5h0M207.6 253.1h0M223.9 242h0M210.9 260.4h0M207.4 263.3h0M216 280.1h0M211.2 241.8h0M218.1 246.8h0M226.2 233h0M226.7 234.2h0M203.1 254h0M219.3 243.8h0M216.6 256.4h0M205.2 270.2h0M202.1 262.2h0M210.4 260.4h0M200 272.5h0M218.6 273.9h0M214.1 277.3h0M225.9 239h0M210.6 272.7h0M207 273.7h0M213.8 253.6h0M211.5 271.5h0M214.4 257h0M207 268.4h0M201.9 281.4h0M208.6 257h0M209.7 265.4h0M224.2 245.3h0M222.1 241.5h0M215 245.2h0M209.7 274.8h0M210.7 248.1h0M213.9 274.7h0M223.4 242.7h0M203.5 280.1h0M222.4 239.4h0M204.6 254.2h0M224.6 232.8h0M216 249.6h0M207.8 250.3h0M224.7 232.4h0M212.1 278.2h0M208.7 272.9h0M203.7 282.2h0M214.8 243h0M222.9 249h0M210.6 245.8h0M213.5 244h0M219.4 277.7h0M202.1 266.4h0M210.6 267h0M211.4 280.1h0M207.5 282.4h0M209.4 271h0M216.1 258.4h0M212.8 275.6h0M213.1 277.8h0M220 240.1h0M212.8 245.4h0M203.2 277.3h0M214.9 267.8h0M202.5 281.8h0M203.8 266.6h0M206.9 275.5h0M213.7 261.7h0M209.8 264.9h0M214.6 240.2h0M202.9 251.7h0M205.9 273h0M209.7 261.8h0M205.5 256.2h0M213.5 274.3h0M210.6 273.5h0M207.7 268.1h0M212.8 243.5h0M216.2 245.8h0M209 271.6h0M212.6 252.2h0M213.6 277.4h0M207.7 253.5h0M217.3 263.9h0M204.9 248.6h0M214.1 250.5h0M216.8 276.1h0M213.9 249h0M214 241.5h0M205.1 272.7h0M217.5 275.8h0M219.1 248.2h0M216.4 268.9h0M204 252.7h0M206.3 249.5h0M220.4 241.7h0M209.7 273.8h0M217.5 268.2h0M225.8 237.1h0M203.4 266.2h0M218 274.1h0M219.2 278.7h0M218.9 236.7h0M215 240h0M214.3 269.8h0M222.8 238.9h0M201.5 268.9h0M202.6 267.1h0M215.9 258.7h0M211.2 276.4h0M211.8 275h0M219.9 276.5h0M216.4 238.8h0M216.1 271h0M222.5 240.7h0M214.9 260.6h0M215.7 269.4h0M212 244h0M220.9 237h0M203.7 271.3h0M220.5 241.2h0M215.7 262.5h0M213.8 253h0M210.5 269.5h0M206.2 277.1h0M213.3 251h0M201.5 266.9h0M210.9 241.7h0M210.4 259.8h0M207.1 245.8h0M221.9 234.2h0M203.8 264.7h0M225.1 231.9h0M206.9 260.6h0M207.1 276.8h0M208.6 273.8h0M223.8 233.1h0M212.1 268.4h0M219.8 252.4h0M219.2 249.2h0M201.9 269.5h0M222.8 237.9h0M214.7 247.1h0M203.5 264.2h0M216 253.6h0M206.2 267.9h0M209.1 276.3h0M213.4 251.2h0M222.3 249.1h0M208.9 256.5h0M204.9 249.4h0M200.7 256.2h0M204.7 266.2h0M211.6 240.7h0M226.3 240.3h0M211.9 264.6h0M212.8 258.7h0M217.8 276.9h0M211.8 272.8h0M204.3 278.5h0M200.7 275.8h0M218.4 238.2h0M207.4 245.4h0M216.3 236.4h0M207.2 279.7h0M208.9 263.6h0M207.9 269.6h0M219.5 234.1h0M206.9 254.2h0M223.6 234.6h0M214.2 243h0M220.1 278.9h0M214.4 250.9h0M217.1 237.7h0M218.5 280.5h0M213.7 278.5h0M218.2 249.6h0M216 253.4h0M215.7 261.4h0M219.6 275.3h0M211.5 258.5h0M216.6 261.8h0M217.1 245.7h0M218 239.2h0M211.4 278.5h0M223.7 242.1h0M221.4 242.7h0M215.6 241.8h0M207.8 262.3h0M223.8 231h0M207.9 267.8h0M219.4 250.2h0M219.1 248.2h0M203.5 253.7h0M217.6 270.6h0M218.2 276.7h0M217.9 241h0M207.1 269.4h0M206.1 270.9h0M203.4 261.7h0M209.3 253.7h0M220.7 244.2h0M201.1 260h0M219.3 247.8h0M215.9 257.5h0M205.5 275.6h0M215 269.8h0M203.8 281.3h0M212.7 250.9h0M215.3 271.2h0M205.7 257.3h0M208.2 273h0M216.3 262.1h0M205.4 262.2h0M109.4 387.4h0M110.9 388.2h0M111.7 388.3h0M112.1 386.4h0M113.8 386.6h0M114.3 386.1h0M116 386.6h0M117.2 387.2h0M118.4 385.9h0M119.2 386.4h0M120.7 386.3h0M121.7 386.9h0M122.3 386.9h0M123 384.6h0M124.5 386.5h0M125.7 384.5h0M126.8 384.8h0M128.2 385.2h0M128.8 386.4h0M129.9 384.7h0M131.6 385h0M132 384.1h0M133.1 383.9h0M134 384.8h0M135.5 385.8h0M136.5 385.3h0M90.9 414h0M92 415.2h0M101.2 403h0M107.8 396.5h0M111.5 401.6h0M69.6 401.6h0M80.6 378.8h0M97.4 350.9h0M87.1 430.5h0M88.3 432h0M86.3 433.2h0M86.4 432.4h0M86.2 430h0M84.4 432.1h0M86.8 431.3h0M71.5 433.6h0M73 434.4h0M162.2 337.8h0M162 335.9h0M163.3 336.8h0M163.5 335.9h0M165.4 337.2h0M164.8 334.4h0M166.3 335.2h0M167.1 333.9h0M167.6 334.8h0M167.7 332.4h0M169.2 332.7h0M170.3 334.6h0M171.4 334.1h0M172.2 334.6h0M172.8 334.8h0M173.7 332.4h0M174.3 333h0M174.7 331.5h0M175.7 332.8h0M176.7 331.9h0M178 333.8h0M178.3 330.2h0M179.2 330.6h0M179.6 330.8h0M181 332.1h0M181.8 332.8h0M181.8 329.1h0M183.5 331.4h0M183.9 329.9h0M185.3 330.5h0M184.8 327.8h0M185.6 328h0M187.5 329.1h0M187.7 327.8h0M189.1 328.6h0M189.4 326.7h0M190.7 329.7h0M191.7 329.3h0M192.7 328.7h0M192.5 326.8h0M194 327.8h0M193.9 326.3h0M195.3 325.7h0M196.7 328.2h0M194.4 310.9h0M197.8 308.7h0M198.4 311.2h0M196.3 310.5h0M194.8 308.2h0M194.4 309.7h0M193.1 310.7h0M195.1 309.2h0M192.2 311.3h0M191.5 313.3h0M195.1 306.9h0M196.7 309h0M194.7 308.4h0M193.6 312.4h0M190.6 312.9h0M191.8 311.9h0M192.1 311.1h0M194.7 312h0M194.6 310.5h0M196.4 312.5h0M198.5 312.3h0M198.5 309.9h0M200.7 310.5h0M201 308.6h0M202.4 308.8h0M203.8 308.7h0M204.4 308.9h0M206.2 307.4h0M207.4 299.3h0M208.9 300h0M209.5 298.1h0M211.5 299.2h0M211.4 298.1h0M213 297.6h0M214.5 296.7h0M215.9 297.9h0M216.9 298.1h0M224.2 289.2h0M225 288.1h0M227 287.3h0M228.5 288.8h0M229.4 288.6h0M230.4 288.3h0M231.7 288h0M233.4 288.1h0M233.8 286.3h0M235 286.6h0M231 281.9h0M232.1 280.6h0M233.7 281.6h0M233.5 280.4h0M235.2 280.4h0M223.3 289h0M225 287.9h0M227.5 285.9h0M228 285.2h0M229.9 284h0M231.8 282.4h0M233.8 282.8h0M235.6 282.8h0M194.4 288h0M195.5 288.7h0M195.9 289.8h0M195.2 292.3h0M196.8 293.1h0M198.9 293.5h0M199 295.6h0M198.3 298.4h0M200.1 299.6h0M201.4 300.6h0M202.8 301.6h0M203.3 303h0M175.3 250h0M184 248.5h0M182.6 258.8h0M196.6 237.5h0M203.2 233h0M187 256h0M195 247h0M197.2 236.6h0M203 233h0M219.5 258.7h0M220.3 257.5h0M221 259.9h0M221.8 258.8h0M222.1 258.2h0M223.5 259.6h0M224.5 259.4h0M225.1 260.5h0M225.9 258.8h0M226.7 260.5h0M227.4 257.8h0M228.3 258.8h0M229 260h0M229.3 259.3h0M230.6 258.9h0M231.5 257.6h0M232.1 258.3h0M232.5 257.2h0M233 256.3h0M234.4 257.9h0M240.5 258.3h0M240.9 258.6h0M242.3 259.4h0M242.4 257.9h0M243.3 257.2h0M244.2 257.1h0M245.2 259.5h0M246 259.5h0M246.9 259.2h0M247.3 259.1h0M247.7 256.8h0M248.7 257.7h0M249.6 256.5h0M250.8 256.8h0M251.4 256.9h0M252 257h0M252.3 254.7h0M253.5 255.5h0M254.1 255.1h0M255.1 255.5h0M255.9 256.8h0M256.7 256.1h0M257 254.8h0M257.9 256.1h0M258.9 254.2h0M259.6 255.9h0M260.7 255.3h0M261 253.4h0M262.1 256.4h0M262.3 254.6h0M269.7 253.8h0M270.4 254.5h0M271.3 253.9h0M273.1 253.8h0M273.7 253.4h0M274.7 253.4h0M275.4 252.9h0M276.5 252.3h0M276.6 252.7h0M278.2 252h0M279.1 251.7h0M280.3 253.8h0M280.5 254.3h0M281.2 253.1h0M282.3 252.3h0M285.3 243h0M286.6 243.4h0M288.2 244.3h0M289.5 244.1h0M291.5 246.1h0M291.8 248.1h0M292.8 249.8h0M293.9 250.7h0M295.2 250.6h0M296.8 251.5h0M299.4 253.1h0M300.7 253h0M284.5 253.1h0M287 250.9h0M289.2 251.3h0M289.1 248.6h0M290.9 249.7h0M293.6 248.7h0M294.4 247.5h0M294.1 244.7h0M296.9 243.6h0M297.6 243.2h0M292.7 247.7h0M293.7 247.8h0M290.4 246.4h0M292.3 249h0M291.5 248.5h0M295.4 251h0M289.7 247.7h0M290.2 246.5h0M294.1 249.6h0M296.6 251h0M291.5 247.1h0M291.3 249.7h0M289 246.8h0M293.4 247.4h0M225.1 236.9h0M227.1 238.6h0M228.5 244.2h0M224.9 232.4h0M226.1 231.7h0M226.1 231.2h0M223.8 238.2h0M223.1 242.8h0M236.9 178.3h0M254.7 185.5h0M242.1 182.4h0M244.3 187h0M235.4 180.3h0M247 182.9h0M257.9 183.5h0M249.2 176.8h0M250.9 187.8h0M253 187.9h0M243.6 186.6h0M236.7 177.7h0M232 176.9h0M231.7 185.9h0M244 185.1h0M232.9 182.5h0M254.3 180.9h0M249.9 178.1h0M238.6 176.5h0M237.4 176.7h0M247.1 180h0M243 186.3h0M252.1 181h0M253.8 179.8h0M245.2 176.1h0M245.4 176.9h0M241.2 177.7h0M240.1 184.1h0M258.2 178.1h0M236.8 181.4h0M252 182.4h0M233.8 177.3h0M232.3 183.4h0M236.9 187.7h0M243.1 186.2h0M244.2 176.6h0M248.8 179.4h0M243.6 185.9h0M235.4 188h0M257.5 180.4h0M235.1 180.8h0M248.6 176.9h0M238.8 178.1h0M246.4 176h0M229.4 193.5h0M228.5 190.3h0M226.1 197.5h0M226.2 201.3h0M231.1 194.9h0M228.8 196.6h0M230.2 192.4h0M227.8 191.1h0M229.2 194.5h0M229.7 207.1h0M231.2 196.3h0M228.3 204.2h0M228.2 195.3h0M228.5 196.7h0M226.8 199.9h0M226.3 198.9h0M226.6 202.9h0M226 203.8h0M226.1 192.4h0M228.3 188.1h0M229.4 202.9h0M226 191.3h0M230.9 190.8h0M228.8 205.2h0M227.4 204.7h0M227.7 200h0M226.5 195.6h0M227.7 205.9h0M230 193.5h0M229.7 189.7h0M228.6 194h0M225.8 188.8h0M222.6 209.9h0M219.9 209.4h0M219.6 210.3h0M222.3 211.2h0M220.8 209.7h0M221.9 213.1h0M242.5 207.5h0M243.4 217.3h0M242.6 210h0M242.7 217h0M245.6 205.7h0M240.9 211.8h0M246.2 215.4h0M242.9 216.4h0M240.3 214.5h0M243.4 214.5h0M242.8 211h0M239.8 219.9h0M244.9 212h0M243.9 214.1h0M244.9 210h0M245.3 219.4h0M245.4 219.8h0M242.4 211.9h0M241.9 218.8h0M243.2 209.2h0M240.2 219.2h0M246.1 207.1h0M251.3 185.5h0M256.3 190h0M257.7 192.6h0M257.9 190.3h0M258.1 187.3h0M256.8 190.9h0M252.2 199h0M253.1 193.4h0M253.8 195.9h0M257.7 189.8h0M255.4 188.4h0M251.7 187.2h0M253 193.6h0M252.9 192.4h0M268.6 181.2h0M267.6 185.9h0M268 181.6h0M269.1 186.3h0M228 220h0M231 223.5h0M234 221h0M206.4 245.3h0M208.1 242.6h0M211.6 232.8h0M215.2 231.7h0M218.6 232.9h0M220.2 220.4h0M223.8 221.2h0M227.3 217.9h0M230.5 211.8h0M232 214.7h0M235.4 209.1h0M238.6 211h0M241.1 197.2h0M245 203.5h0M248.8 193.3h0M251 194.1h0M253 188.6h0M257.4 186.3h0M259 179.7h0M262.7 180.6h0M266.8 178.1h0M269.3 171.7h0M271.4 171.4h0M276 165.7h0M278.4 164.7h0M281.1 158.6h0M289.4 150.1h0M284.9 148.6h0M288.1 149.9h0M284 148.8h0M289 145.5h0M288.7 152.5h0M291 159.7h0M291.5 152.1h0M289.2 151.4h0M290.9 147.3h0M288.8 147.2h0M292.8 151.2h0M290.7 150h0M290.5 141.8h0M291.3 149.4h0M290.5 147.2h0M288.8 153.5h0M295.2 144h0M286.1 154h0M290.5 152h0M286.9 149.9h0M284.4 147.9h0M287.4 148.5h0M289.1 149.4h0M294.2 148.7h0M291.5 148h0M292.7 150.6h0M288 151.4h0M288.3 150.2h0M288.6 153.6h0M289.2 154.4h0M286.5 150.8h0M287.7 147h0M289.3 155.2h0M291.8 147.4h0M291.9 157.2h0M286.6 153.2h0M286.5 156.2h0M287.5 153.2h0M287.7 152.9h0M291.4 147h0M291.6 142.3h0M288.7 154.2h0M291.7 154.7h0M295.7 149.6h0M273.2 165.9h0M272.7 166.4h0M274 164h0M272.6 166.1h0M275.9 166.6h0M276.8 175.5h0M278.5 175h0M279.6 174.4h0M280 173.7h0M281.7 173.8h0M283.3 172.1h0M268 186.4h0M268.3 186.4h0M267.5 186.8h0M268.3 187h0M275.3 193.8h0M277 194.7h0M277.5 196h0M277.8 196.8h0M279.1 198h0M280.1 199.6h0M280.6 199.7h0M282.1 200.6h0M306.1 126.8h0M303.7 125.9h0M295.1 126.7h0M300.2 126.2h0M294.7 123.5h0M302.8 121.3h0M301.5 126.9h0M298.2 123.2h0M299.3 122.9h0M298 127.3h0M295 124.2h0M297.4 125.1h0M298.8 126.7h0M303.4 127.3h0M303.7 122.1h0M293.6 124.7h0M299.9 120.9h0M297.5 123.5h0M307.6 121.2h0M303.3 127h0M306.9 125.8h0M302 127.5h0M297.6 126h0M298.2 126.8h0M306.9 126.6h0M306.3 121.6h0M302.9 125.8h0M304.4 121.4h0M300 126.3h0M305.7 123.9h0M297.5 142.2h0M292.1 145.3h0M286.4 141.6h0M292.3 141.2h0M285.8 140.9h0M298.9 149.8h0M285.3 141.3h0M298.7 145.6h0M296.1 148.8h0M288 150h0M292.7 142h0M287.2 142.7h0M289.5 150.5h0M292.3 146.7h0M294.8 145.1h0M286.7 149.7h0M296.6 149.8h0M285 144.9h0M293.3 141.1h0M296.6 142.2h0M296.4 142.8h0M296.1 145.8h0M289.5 145h0M286.9 143.2h0M290.7 140.6h0M285.6 165.4h0M288.2 158.4h0M285.9 157.8h0M287.2 160.9h0M286.2 156.5h0M287 157.6h0M285.3 159.8h0M287.8 161.5h0M285.4 159.5h0M286.1 164.9h0M284.1 161.3h0M287 163.7h0M287.1 157.7h0M284.4 164.6h0M284.7 158h0M287.9 158.7h0M284.4 160.6h0M286.9 165.6h0M284.1 163.7h0M284.3 161.9h0M273.3 169.2h0M278.4 171.5h0M277.3 170.7h0M281.5 170.5h0M273.5 170.3h0M276.4 170.9h0M272.9 170.4h0M273.8 166.6h0M321 119h0M329.8 103h0M305.7 131.5h0M267.8 185h0M276 195.6h0M321.6 119h0M302 126.2h0M304.6 123.7h0M306.5 126h0M305.5 130.9h0M301.6 121.7h0M307.4 129.7h0M302.8 124.1h0M305.8 130.9h0M301.6 126.8h0M304.8 122.7h0M302.7 127.9h0M303.2 125.2h0M303.8 129.7h0M306.6 124.2h0M336.4 111.7h0M338.9 113.4h0M341.4 112.6h0M343.1 115.1h0M340.6 116.8h0M344 117.6h0M338.1 117.6h0M335.6 118.4h0M342.3 119.3h0M339.8 115.1h0M337.2 115.4h0M344.8 115.4h0M334.4 116.4h0M340.1 118.8h0M396.7 55h0M389.7 67h0M391.6 65.8h0M393.5 64.5h0M394.8 62.6h0M397.9 60.7h0M399.8 62h0M401.7 60.7h0M402.3 62.6h0M401.1 65.8h0M392.2 67.7h0M395.4 64.9h0M385.9 73.3h0M398.5 73.3h0M380.3 73.3h0M377.1 80.3h0M390.4 80.3h0M357.6 86.6h0M359.5 84.7h0M361.3 83.4h0M363.2 84h0M365.1 82.5h0M366.4 83h0M358.6 87.8h0M362 85.9h0M369.2 84.3h0M372.4 83h0M357.6 91h0M362.6 91.6h0M365.8 91h0M367.7 92.9h0M370.2 94.8h0M372.7 94.1h0M361.3 94.1h0M360.1 96.7h0M362.6 98.5h0M365.8 99.2h0M363.9 95.4h0M359.1 93.5h0M368.9 96.9h0M377.7 95.4h0M350.6 102.3h0M352.8 101.7h0M355 102h0M357.3 101.1h0M359.5 100.4h0M377.1 107.4h0M391.6 105.5h0M397.9 102.3h0M403 99.2h0M412.4 55.7h0M414.2 55.2h0M416 54.5h0M423.8 52.3h0M425.9 50.4h0M431.2 50.2h0M431.3 52.7h0M432.8 54.8h0M435.1 49.5h0M437.2 51.6h0M437.4 53.8h0M439 47.6h0M305.5 218.5h0M283 201h0M382 112.4h0M386.3 110.8h0M391.6 105.7h0M344 126.8h0M342.3 129.4h0M343.1 131.9h0M341.4 134.4h0M342.3 136.1h0M348.2 136.1h0M349 140.3h0M351.5 141.1h0M349.8 143.7h0M351.5 146.2h0M349.8 150.4h0M353.2 149.5h0M351.5 152.9h0M354.9 153.7h0M354.1 156.3h0M355.7 157.9h0M353.2 160.5h0M357.4 159.6h0M354.9 163h0M358.3 163.8h0M359.9 166.3h0M356.6 162.1h0M361.6 168.9h0M364.1 169.7h0M365.8 171.4h0M367.5 173.1h0M364.1 173.9h0M365.8 175.6h0M363.3 176.4h0M352.4 180.3h0" stroke="#3b3b3b" stroke-width="3.4" stroke-linecap="round" fill="none"/>
<g clip-path="url(#c)" fill="none" stroke-linecap="butt" stroke-linejoin="round">
<path d="M62 435.3 L62 435.2 L62.1 434.9 L62.2 434.5 L62.4 434.1 L62.6 433.5 L62.9 432.8 L63.2 432.1 L63.6 431.2 L64 430.3 L64.5 429.3 L65.1 428.2 L65.6 427.1 L66.3 425.9 L66.9 424.6 L67.7 423.2 L68.5 421.8 L69.3 420.3 L70.2 418.8 L71.1 417.2 L72.1 415.5 L73.1 413.7 L74.2 411.9 L75.4 410.1 L76.5 408.2 L77.8 406.2 L79.1 404.1 L80.4 402 L81.8 399.9 L83.2 397.7 L84.7 395.4 L86.3 393.1 L87.9 390.7 L89.5 388.3 L91.2 385.8 L92.9 383.3 L94.7 380.7 L96.6 378 L98.5 375.3 L100.4 372.6 L102.4 369.8 L104.5 366.9 L106.5 364 L108.7 361.1 L110.9 358.1 L113.1 355 L115.4 351.9 L117.8 348.8 L120.2 345.6 L122.6 342.3 L125.1 339 L127.7 335.7 L130.3 332.3 L132.9 328.8 L135.6 325.3 L138.4 321.8 L141.2 318.2 L144 314.6 L147 310.9 L149.9 307.2 L152.9 303.4 L156 299.6 L159.1 295.8 L162.2 291.9 L165.4 287.9 L168.7 283.9 L172 279.9 L175.4 275.8 L178.8 271.6 L182.2 267.5 L185.7 263.3 L189.3 259 L192.9 254.7 L196.6 250.3 L200.3 245.9 L204.1 241.5 L207.9 237 L211.7 232.5 L215.6 227.9 L219.6 223.3 L223.6 218.7 L227.7 214 L231.8 209.3 L236 204.5 L240.2 199.7 L244.5 194.8 L248.8 189.9 L253.1 185 L257.6 180 L262 174.9 L266.6 169.9 L271.1 164.8 L275.7 159.6 L280.4 154.4 L285.1 149.2 L289.9 143.9 L294.7 138.6 L299.6 133.3 L304.5 127.9 L309.5 122.4 L314.5 117 L319.6 111.5 L324.7 105.9 L329.9 100.3 L335.1 94.7 L340.4 89 L345.7 83.3 L351.1 77.6 L356.6 71.8 L362 65.9 L367.6 60.1 L373.1 54.2 L378.8 48.2 L384.5 42.3 L390.2 36.2 L396 30.2 L401.8 24.1 L407.7 17.9 L413.6 11.8 L419.6 5.6" stroke="#2ca02c" stroke-width="1.5"/>
<path d="M62 435.3 L62 434.6 L62 433.5 L62.1 432.2 L62.1 430.7 L62.1 429.1 L62.2 427.4 L62.3 425.6 L62.4 423.7 L62.5 421.7 L62.6 419.7 L62.7 417.5 L62.8 415.4 L62.9 413.1 L63.1 410.8 L63.3 408.4 L63.4 406 L63.6 403.5 L63.8 401 L64 398.4 L64.2 395.8 L64.5 393.1 L64.7 390.4 L65 387.7 L65.2 384.9 L65.5 382 L65.8 379.2 L66.1 376.3 L66.4 373.3 L66.7 370.3 L67 367.3 L67.4 364.3 L67.7 361.2 L68.1 358.1 L68.5 354.9 L68.8 351.7 L69.2 348.5 L69.6 345.3 L70.1 342 L70.5 338.7 L70.9 335.4 L71.4 332 L71.8 328.6 L72.3 325.2 L72.8 321.8 L73.3 318.3 L73.8 314.8 L74.3 311.3 L74.9 307.8 L75.4 304.2 L76 300.6 L76.5 297 L77.1 293.4 L77.7 289.7 L78.3 286 L78.9 282.3 L79.5 278.6 L80.1 274.8 L80.8 271 L81.4 267.2 L82.1 263.4 L82.8 259.5 L83.5 255.7 L84.2 251.8 L84.9 247.9 L85.6 243.9 L86.3 240 L87.1 236 L87.8 232 L88.6 228 L89.4 224 L90.1 219.9 L90.9 215.9 L91.8 211.8 L92.6 207.7 L93.4 203.6 L94.3 199.4 L95.1 195.2 L96 191.1 L96.8 186.9 L97.7 182.6 L98.6 178.4 L99.5 174.2 L100.5 169.9 L101.4 165.6 L102.3 161.3 L103.3 157 L104.3 152.6 L105.2 148.3 L106.2 143.9 L107.2 139.5 L108.2 135.1 L109.3 130.7 L110.3 126.2 L111.3 121.8 L112.4 117.3 L113.5 112.8 L114.5 108.3 L115.6 103.8 L116.7 99.3 L117.8 94.7 L119 90.1 L120.1 85.6 L121.2 81 L122.4 76.4 L123.6 71.7 L124.7 67.1 L125.9 62.4 L127.1 57.8 L128.3 53.1 L129.6 48.4 L130.8 43.7 L132 38.9 L133.3 34.2 L134.6 29.4 L135.8 24.7 L137.1 19.9 L138.4 15.1 L139.7 10.3 L141.1 5.4" stroke="#808080" stroke-width="1.6"/>
<path d="M62 435.3 L62 435.1 L62 434.7 L62 434.2 L62 433.6 L62 432.8 L62 431.9 L62 431 L62 429.9 L62 428.8 L62 427.5 L62 426.2 L62 424.8 L62 423.4 L62 421.9 L62 420.3 L62 418.6 L62.1 416.9 L62.1 415.1 L62.1 413.2 L62.1 411.3 L62.1 409.3 L62.1 407.2 L62.1 405.1 L62.1 402.9 L62.1 400.7 L62.1 398.4 L62.1 396.1 L62.1 393.7 L62.2 391.3 L62.2 388.8 L62.2 386.2 L62.2 383.6 L62.2 380.9 L62.2 378.2 L62.2 375.5 L62.2 372.6 L62.2 369.8 L62.3 366.9 L62.3 363.9 L62.3 360.9 L62.3 357.8 L62.3 354.7 L62.3 351.6 L62.4 348.4 L62.4 345.2 L62.4 341.9 L62.4 338.5 L62.4 335.2 L62.4 331.7 L62.5 328.3 L62.5 324.8 L62.5 321.2 L62.5 317.6 L62.5 314 L62.5 310.3 L62.6 306.6 L62.6 302.8 L62.6 299 L62.6 295.1 L62.7 291.2 L62.7 287.3 L62.7 283.3 L62.7 279.3 L62.7 275.2 L62.8 271.2 L62.8 267 L62.8 262.8 L62.8 258.6 L62.9 254.4 L62.9 250.1 L62.9 245.7 L62.9 241.4 L63 237 L63 232.5 L63 228 L63 223.5 L63.1 218.9 L63.1 214.3 L63.1 209.7 L63.2 205 L63.2 200.3 L63.2 195.6 L63.2 190.8 L63.3 186 L63.3 181.1 L63.3 176.2 L63.4 171.3 L63.4 166.3 L63.4 161.3 L63.5 156.3 L63.5 151.2 L63.5 146.1 L63.6 141 L63.6 135.8 L63.6 130.6 L63.7 125.4 L63.7 120.1 L63.7 114.8 L63.8 109.4 L63.8 104 L63.8 98.6 L63.9 93.2 L63.9 87.7 L64 82.2 L64 76.6 L64 71 L64.1 65.4 L64.1 59.8 L64.2 54.1 L64.2 48.3 L64.2 42.6 L64.3 36.8 L64.3 31 L64.4 25.2 L64.4 19.3 L64.4 13.4 L64.5 7.4 L64.5 1.4 L64.6 -4.6" stroke="#111111" stroke-width="1.6"/>
<path d="M62 435.3 L62 435.1 L62.1 434.7 L62.2 434.2 L62.4 433.5 L62.7 432.7 L63 431.8 L63.4 430.8 L63.8 429.8 L64.2 428.6 L64.8 427.4 L65.4 426.1 L66 424.7 L66.7 423.2 L67.4 421.7 L68.2 420.1 L69.1 418.4 L70 416.7 L71 414.9 L72 413 L73.1 411.1 L74.2 409.1 L75.4 407.1 L76.7 405 L78 402.8 L79.3 400.6 L80.8 398.3 L82.2 396 L83.8 393.6 L85.3 391.2 L87 388.7 L88.7 386.2 L90.4 383.6 L92.2 381 L94.1 378.3 L96 375.6 L98 372.8 L100 370 L102.1 367.1 L104.2 364.2 L106.4 361.3 L108.7 358.3 L111 355.2 L113.3 352.1 L115.7 349 L118.2 345.8 L120.7 342.6 L123.3 339.3 L126 336 L128.6 332.6 L131.4 329.2 L134.2 325.8 L137.1 322.3 L140 318.8 L142.9 315.2 L146 311.6 L149 307.9 L152.2 304.2 L155.4 300.5 L158.6 296.8 L161.9 293 L165.3 289.1 L168.7 285.2 L172.2 281.3 L175.7 277.3 L179.3 273.3 L182.9 269.3 L186.6 265.2 L190.4 261.1 L194.2 257 L198 252.8 L201.9 248.6 L205.9 244.3 L209.9 240 L214 235.7 L218.1 231.3 L222.3 226.9 L226.6 222.5 L230.9 218 L235.2 213.5 L239.6 208.9 L244.1 204.4 L248.6 199.7 L253.2 195.1 L257.9 190.4 L262.5 185.7 L267.3 180.9 L272.1 176.2 L277 171.3 L281.9 166.5 L286.8 161.6 L291.9 156.7 L296.9 151.7 L302.1 146.7 L307.3 141.7 L312.5 136.7 L317.8 131.6 L323.2 126.5 L328.6 121.3 L334.1 116.1 L339.6 110.9 L345.2 105.7 L350.8 100.4 L356.5 95.1 L362.2 89.8 L368 84.4 L373.9 79 L379.8 73.5 L385.8 68.1 L391.8 62.6 L397.9 57.1 L404 51.5 L410.2 45.9 L416.4 40.3 L422.7 34.6 L429.1 28.9 L435.5 23.2 L442 17.5 L448.5 11.7 L455.1 5.9" stroke="#a6cee3" stroke-width="2.2"/>
<path d="M62 435.3 L62 435.1 L62 434.7 L62.1 434.1 L62.1 433.4 L62.2 432.6 L62.2 431.7 L62.3 430.7 L62.4 429.6 L62.5 428.4 L62.6 427.2 L62.7 425.8 L62.9 424.4 L63 422.9 L63.2 421.4 L63.4 419.7 L63.6 418 L63.8 416.3 L64 414.4 L64.2 412.6 L64.5 410.6 L64.7 408.6 L65 406.5 L65.3 404.4 L65.6 402.2 L65.9 400 L66.2 397.7 L66.5 395.4 L66.8 393 L67.2 390.5 L67.6 388 L67.9 385.5 L68.3 382.9 L68.7 380.2 L69.1 377.5 L69.6 374.8 L70 372 L70.4 369.1 L70.9 366.2 L71.4 363.3 L71.9 360.3 L72.4 357.3 L72.9 354.2 L73.4 351.1 L73.9 348 L74.5 344.8 L75.1 341.5 L75.6 338.2 L76.2 334.9 L76.8 331.5 L77.4 328.1 L78 324.6 L78.7 321.1 L79.3 317.6 L80 314 L80.7 310.4 L81.3 306.7 L82 303 L82.8 299.3 L83.5 295.5 L84.2 291.7 L85 287.9 L85.7 284 L86.5 280 L87.3 276.1 L88.1 272.1 L88.9 268 L89.7 263.9 L90.5 259.8 L91.4 255.7 L92.2 251.5 L93.1 247.2 L94 243 L94.9 238.7 L95.8 234.4 L96.7 230 L97.6 225.6 L98.6 221.1 L99.5 216.7 L100.5 212.2 L101.5 207.6 L102.5 203 L103.5 198.4 L104.5 193.8 L105.5 189.1 L106.6 184.4 L107.6 179.6 L108.7 174.9 L109.8 170 L110.9 165.2 L112 160.3 L113.1 155.4 L114.2 150.5 L115.4 145.5 L116.5 140.5 L117.7 135.4 L118.9 130.3 L120 125.2 L121.3 120.1 L122.5 114.9 L123.7 109.7 L124.9 104.5 L126.2 99.2 L127.5 93.9 L128.7 88.6 L130 83.2 L131.3 77.9 L132.6 72.4 L134 67 L135.3 61.5 L136.7 56 L138 50.5 L139.4 44.9 L140.8 39.3 L142.2 33.7 L143.6 28 L145 22.3 L146.5 16.6 L147.9 10.8 L149.4 5" stroke="#1f78b4" stroke-width="2.2"/>
<path d="M62 435.3 L62 435.3 L62.1 435.2 L62.3 435.1 L62.6 435 L62.9 434.8 L63.2 434.6 L63.7 434.4 L64.2 434.1 L64.8 433.8 L65.5 433.5 L66.2 433.1 L67 432.7 L67.9 432.2 L68.8 431.8 L69.8 431.2 L70.9 430.7 L72 430.1 L73.2 429.5 L74.5 428.8 L75.9 428.1 L77.3 427.3 L78.8 426.6 L80.3 425.8 L81.9 424.9 L83.6 424 L85.4 423.1 L87.2 422.2 L89.2 421.2 L91.1 420.2 L93.2 419.1 L95.3 418 L97.5 416.9 L99.7 415.7 L102 414.5 L104.4 413.3 L106.9 412.1 L109.4 410.8 L112 409.4 L114.7 408.1 L117.4 406.7 L120.2 405.2 L123.1 403.7 L126 402.2 L129 400.7 L132.1 399.1 L135.3 397.5 L138.5 395.9 L141.8 394.2 L145.1 392.5 L148.6 390.8 L152.1 389 L155.6 387.2 L159.3 385.4 L163 383.5 L166.8 381.6 L170.6 379.7 L174.5 377.7 L178.5 375.7 L182.5 373.7 L186.7 371.6 L190.9 369.5 L195.1 367.4 L199.4 365.3 L203.8 363.1 L208.3 360.9 L212.8 358.6 L217.5 356.4 L222.1 354 L226.9 351.7 L231.7 349.3 L236.6 347 L241.5 344.5 L246.5 342.1 L251.6 339.6 L256.8 337.1 L262 334.5 L267.3 332 L272.7 329.4 L278.1 326.7 L283.6 324.1 L289.2 321.4 L294.9 318.7 L300.6 316 L306.4 313.2 L312.2 310.4 L318.1 307.6 L324.1 304.7 L330.2 301.9 L336.3 299 L342.5 296.1 L348.8 293.1 L355.1 290.1 L361.5 287.1 L368 284.1 L374.5 281.1 L381.2 278 L387.8 274.9 L394.6 271.8 L401.4 268.7 L408.3 265.5 L415.3 262.3 L422.3 259.1 L429.4 255.9 L436.6 252.6 L443.8 249.3 L451.1 246 L458.5 242.7 L465.9 239.4 L473.4 236 L481 232.6 L488.7 229.2 L496.4 225.8 L504.2 222.3 L512.1 218.9 L520 215.4 L528 211.9 L536.1 208.4 L544.2 204.8 L552.4 201.3" stroke="#fdbf6f" stroke-width="2.0"/>
<path d="M62 435.3 L62 435.3 L62.1 435.2 L62.3 435.1 L62.6 435 L62.9 434.8 L63.2 434.6 L63.7 434.3 L64.2 434 L64.8 433.7 L65.5 433.3 L66.2 432.9 L67 432.4 L67.9 431.9 L68.8 431.4 L69.8 430.8 L70.9 430.2 L72 429.6 L73.2 428.9 L74.5 428.1 L75.9 427.4 L77.3 426.6 L78.8 425.7 L80.3 424.8 L81.9 423.9 L83.6 422.9 L85.4 421.9 L87.2 420.9 L89.2 419.8 L91.1 418.6 L93.2 417.5 L95.3 416.3 L97.5 415 L99.7 413.7 L102 412.4 L104.4 411.1 L106.9 409.7 L109.4 408.2 L112 406.7 L114.7 405.2 L117.4 403.7 L120.2 402.1 L123.1 400.4 L126 398.7 L129 397 L132.1 395.3 L135.3 393.5 L138.5 391.7 L141.8 389.8 L145.1 387.9 L148.6 385.9 L152.1 384 L155.6 381.9 L159.3 379.9 L163 377.8 L166.8 375.6 L170.6 373.5 L174.5 371.2 L178.5 369 L182.5 366.7 L186.7 364.4 L190.9 362 L195.1 359.6 L199.4 357.2 L203.8 354.7 L208.3 352.2 L212.8 349.6 L217.5 347 L222.1 344.4 L226.9 341.7 L231.7 339 L236.6 336.3 L241.5 333.5 L246.5 330.7 L251.6 327.8 L256.8 324.9 L262 322 L267.3 319 L272.7 316 L278.1 313 L283.6 309.9 L289.2 306.8 L294.9 303.6 L300.6 300.4 L306.4 297.2 L312.2 293.9 L318.1 290.6 L324.1 287.3 L330.2 283.9 L336.3 280.5 L342.5 277.1 L348.8 273.6 L355.1 270.1 L361.5 266.6 L368 263 L374.5 259.3 L381.2 255.7 L387.8 252 L394.6 248.3 L401.4 244.5 L408.3 240.7 L415.3 236.9 L422.3 233 L429.4 229.1 L436.6 225.2 L443.8 221.2 L451.1 217.2 L458.5 213.1 L465.9 209.1 L473.4 205 L481 200.8 L488.7 196.6 L496.4 192.4 L504.2 188.2 L512.1 183.9 L520 179.6 L528 175.2 L536.1 170.8 L544.2 166.4 L552.4 162" stroke="#f07e14" stroke-width="2.1"/>
</g>
<rect x="62" y="6" width="490.4" height="429.3" fill="none" stroke="#4d4d4d" stroke-width="1.3"/>
<path d="M80.9 435.3v-6.5M80.9 6v6.5M99.7 435.3v-12.5M99.7 6v12.5M118.6 435.3v-6.5M118.6 6v6.5M137.4 435.3v-12.5M137.4 6v12.5M156.3 435.3v-6.5M156.3 6v6.5M175.2 435.3v-12.5M175.2 6v12.5M194 435.3v-6.5M194 6v6.5M212.9 435.3v-12.5M212.9 6v12.5M231.8 435.3v-6.5M231.8 6v6.5M250.6 435.3v-12.5M250.6 6v12.5M269.5 435.3v-6.5M269.5 6v6.5M288.3 435.3v-12.5M288.3 6v12.5M307.2 435.3v-6.5M307.2 6v6.5M326.1 435.3v-12.5M326.1 6v12.5M344.9 435.3v-6.5M344.9 6v6.5M363.8 435.3v-12.5M363.8 6v12.5M382.6 435.3v-6.5M382.6 6v6.5M401.5 435.3v-12.5M401.5 6v12.5M420.4 435.3v-6.5M420.4 6v6.5M439.2 435.3v-12.5M439.2 6v12.5M458.1 435.3v-6.5M458.1 6v6.5M477 435.3v-12.5M477 6v12.5M495.8 435.3v-6.5M495.8 6v6.5M514.7 435.3v-12.5M514.7 6v12.5M533.5 435.3v-6.5M533.5 6v6.5M62 413.8h6.5M552.4 413.8h-6.5M62 392.4h12.5M552.4 392.4h-12.5M62 370.9h6.5M552.4 370.9h-6.5M62 349.4h12.5M552.4 349.4h-12.5M62 328h6.5M552.4 328h-6.5M62 306.5h12.5M552.4 306.5h-12.5M62 285h6.5M552.4 285h-6.5M62 263.6h12.5M552.4 263.6h-12.5M62 242.1h6.5M552.4 242.1h-6.5M62 220.7h12.5M552.4 220.7h-12.5M62 199.2h6.5M552.4 199.2h-6.5M62 177.7h12.5M552.4 177.7h-12.5M62 156.3h6.5M552.4 156.3h-6.5M62 134.8h12.5M552.4 134.8h-12.5M62 113.3h6.5M552.4 113.3h-6.5M62 91.9h12.5M552.4 91.9h-12.5M62 70.4h6.5M552.4 70.4h-6.5M62 48.9h12.5M552.4 48.9h-12.5M62 27.5h6.5M552.4 27.5h-6.5" stroke="#222" stroke-width="1" fill="none"/>
<g font-size="17">
<text x="62.3" y="454" text-anchor="middle">0</text><text x="100" y="454" text-anchor="middle">50</text><text x="137.7" y="454" text-anchor="middle">100</text><text x="175.5" y="454" text-anchor="middle">150</text><text x="213.2" y="454" text-anchor="middle">200</text><text x="250.9" y="454" text-anchor="middle">250</text><text x="288.6" y="454" text-anchor="middle">300</text><text x="326.4" y="454" text-anchor="middle">350</text><text x="364.1" y="454" text-anchor="middle">400</text><text x="401.8" y="454" text-anchor="middle">450</text><text x="439.5" y="454" text-anchor="middle">500</text><text x="477.3" y="454" text-anchor="middle">550</text><text x="515" y="454" text-anchor="middle">600</text><text x="552.7" y="454" text-anchor="middle">650</text>
<text x="56.6" y="441.4" text-anchor="end">0</text><text x="56.6" y="398.5" text-anchor="end">100</text><text x="56.6" y="355.5" text-anchor="end">200</text><text x="56.6" y="312.6" text-anchor="end">300</text><text x="56.6" y="269.7" text-anchor="end">400</text><text x="56.6" y="226.8" text-anchor="end">500</text><text x="56.6" y="183.8" text-anchor="end">600</text><text x="56.6" y="140.9" text-anchor="end">700</text><text x="56.6" y="98" text-anchor="end">800</text><text x="56.6" y="55" text-anchor="end">900</text><text x="56.6" y="12.1" text-anchor="end">1000</text>
</g>
<text transform="translate(307.6 471.7) scale(1.052 1)" word-spacing="1.3" font-size="16.4" text-anchor="middle">Vacancies per bubble</text>
<text transform="translate(12.5 223.5) rotate(-90) scale(1.052 1)" word-spacing="1.3" font-size="16.4" text-anchor="middle">Helium atoms per bubble</text>
<rect x="340.7" y="300.6" width="193" height="118.8" fill="#fff" stroke="#333" stroke-width="1"/>
<g font-size="11.1">
<path d="M347 311.3h25.4" stroke="#2ca02c" stroke-width="1.4"/><text x="384.8" y="314.8">Equation (1)</text>
<path d="M347 327.6h25.4" stroke="#7f7f7f" stroke-width="1.3"/><text x="384.8" y="330.9">Ideal [Eq. (8)], equilibrium</text>
<path d="M347 343.9h25.4" stroke="#1a1a1a" stroke-width="1.4"/><text x="384.8" y="347.1">Ideal [Eq. (8)], loop-punching</text>
<path d="M347 360.2h25.4" stroke="#a6cee3" stroke-width="2.0"/><text x="384.8" y="363.2">Virial [Eq. (17)], equilibrium</text>
<path d="M347 376.5h25.4" stroke="#1f78b4" stroke-width="2.0"/><text x="384.8" y="379.4">Virial [Eq. (17)], loop-punching</text>
<path d="M347 392.8h25.4" stroke="#fdbf6f" stroke-width="2.0"/><text x="384.8" y="395.6">Virial [Eq. (21)], equilibrium</text>
<path d="M347 409.1h25.4" stroke="#f07e14" stroke-width="2.0"/><text x="384.8" y="411.7">Virial [Eq. (21)], loop-punching</text>
</g>
</svg>
</body></html>
